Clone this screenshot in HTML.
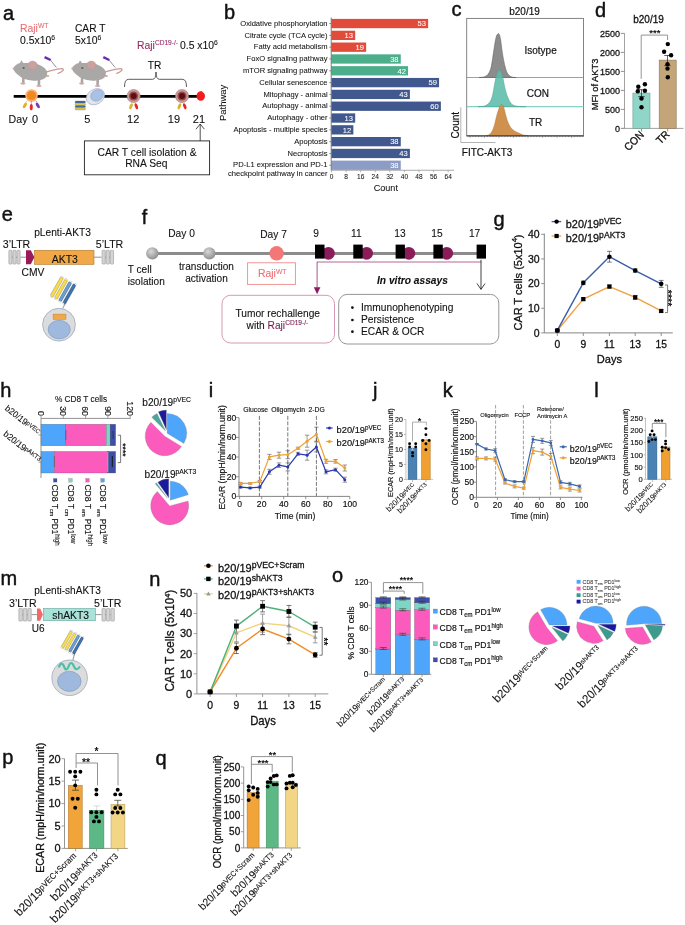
<!DOCTYPE html>
<html><head><meta charset="utf-8"><style>
html,body{margin:0;padding:0;background:#fff;width:685px;height:925px;overflow:hidden}
svg{display:block;font-family:"Liberation Sans",sans-serif;will-change:transform}
</style></head><body>
<svg width="685" height="925" viewBox="0 0 685 925" fill="#111">
<text x="3.1" y="19.5" font-size="20" stroke="#111" stroke-width="0.45">a</text>
<text x="0" y="0" font-size="10.71" fill="#ec6f74" transform="translate(20 32) scale(0.9709 1)" stroke="#ec6f74" stroke-width="0.1">Raji<tspan font-size="7" dy="-3.8">WT</tspan></text>
<text x="0" y="0" font-size="10.71" transform="translate(20 44) scale(0.9709 1)" stroke="#111" stroke-width="0.1">0.5x10<tspan font-size="7" dy="-3.8">6</tspan></text>
<text x="0" y="0" font-size="10.51" transform="translate(75 32) scale(0.9709 1)" stroke="#111" stroke-width="0.1">CAR T</text>
<text x="0" y="0" font-size="10.71" transform="translate(75 44) scale(0.9709 1)" stroke="#111" stroke-width="0.1">5x10<tspan font-size="7" dy="-3.8">6</tspan></text>
<text x="0" y="0" font-size="10.71" fill="#9b2a68" transform="translate(137 49) scale(0.9709 1)" stroke="#9b2a68" stroke-width="0.1">Raji<tspan font-size="6.8" dy="-3.8">CD19-/-</tspan></text>
<text x="0" y="0" font-size="10.71" transform="translate(180 49) scale(0.9709 1)" stroke="#111" stroke-width="0.1">0.5 x10<tspan font-size="7" dy="-3.8">6</tspan></text>
<text x="0" y="0" font-size="10.51" text-anchor="middle" transform="translate(154.5 68.5) scale(0.9709 1)" stroke="#111" stroke-width="0.1">TR</text>
<path d="M124.5,87 Q124.5,79.3 128.5,79.3 L152.5,79.3 Q156,79.3 156,72 Q156,79.3 159.5,79.3 L182.5,79.3 Q186.5,79.3 186.5,87" fill="none" stroke="#333" stroke-width="0.8"/>
<g transform="translate(0,0)">
<path d="M46,72 C52,70.5 58,68.5 62.3,68.6 C64.8,69 62.5,72 57.6,73.6" fill="none" stroke="#c99a94" stroke-width="1.3"/>
<path d="M44.6,57.1 L50.6,60" fill="none" stroke="#6a2cb0" stroke-width="2.4"/>
<line x1="50" y1="59.5" x2="56.4" y2="67.5" stroke="#666" stroke-width="0.7"/>
<path d="M23.5,77 L23.2,83 M39,78.5 L38.9,85.3" fill="none" stroke="#a9a7a5" stroke-width="2.6"/>
<ellipse cx="23" cy="83.6" rx="2.7" ry="1.1" fill="#d9a8a4"/>
<ellipse cx="38.9" cy="86" rx="2.7" ry="1.1" fill="#d9a8a4"/>
<ellipse cx="47.6" cy="75.9" rx="1.8" ry="1" fill="#d9a8a4"/>
<path d="M13.1,68.4 C14.5,65.5 17,63.8 20,63 L21.3,60.3 L23.3,63.1 C27,62.9 31,63 34,63.5 C39,64.3 44,66.5 46.5,70.5 C48,74 47,77.5 43,79.3 C40,80.6 36,80.9 32,80.4 C27,80.1 22,78.6 18.5,75.2 C16,73.2 14,71 13.1,68.4 Z" fill="#aaa8a6" stroke="none" stroke-width="1"/>
<ellipse cx="32.6" cy="65.2" rx="4.6" ry="4.2" fill="#c9a19e" stroke="#b08a88" stroke-width="0.3"/>
<ellipse cx="23.6" cy="68" rx="1.2" ry="0.8" fill="#5a4040"/>
<circle cx="13.5" cy="68.5" r="0.9" fill="#d9a0a0" stroke="none" stroke-width="1"/>
</g>
<g transform="translate(58.7,0)">
<path d="M46,72 C52,70.5 58,68.5 62.3,68.6 C64.8,69 62.5,72 57.6,73.6" fill="none" stroke="#c99a94" stroke-width="1.3"/>
<path d="M44.6,57.1 L50.6,60" fill="none" stroke="#6a2cb0" stroke-width="2.4"/>
<line x1="50" y1="59.5" x2="56.4" y2="67.5" stroke="#666" stroke-width="0.7"/>
<path d="M23.5,77 L23.2,83 M39,78.5 L38.9,85.3" fill="none" stroke="#a9a7a5" stroke-width="2.6"/>
<ellipse cx="23" cy="83.6" rx="2.7" ry="1.1" fill="#d9a8a4"/>
<ellipse cx="38.9" cy="86" rx="2.7" ry="1.1" fill="#d9a8a4"/>
<ellipse cx="47.6" cy="75.9" rx="1.8" ry="1" fill="#d9a8a4"/>
<path d="M13.1,68.4 C14.5,65.5 17,63.8 20,63 L21.3,60.3 L23.3,63.1 C27,62.9 31,63 34,63.5 C39,64.3 44,66.5 46.5,70.5 C48,74 47,77.5 43,79.3 C40,80.6 36,80.9 32,80.4 C27,80.1 22,78.6 18.5,75.2 C16,73.2 14,71 13.1,68.4 Z" fill="#aaa8a6" stroke="none" stroke-width="1"/>
<ellipse cx="32.6" cy="65.2" rx="4.6" ry="4.2" fill="#c9a19e" stroke="#b08a88" stroke-width="0.3"/>
<ellipse cx="23.6" cy="68" rx="1.2" ry="0.8" fill="#5a4040"/>
<circle cx="13.5" cy="68.5" r="0.9" fill="#d9a0a0" stroke="none" stroke-width="1"/>
</g>
<line x1="13.7" y1="96.3" x2="197" y2="96.3" stroke="#000" stroke-width="2.8"/>
<circle cx="31.5" cy="95.5" r="6.3" fill="#f7b27a" stroke="none" stroke-width="1"/>
<circle cx="31.5" cy="95.5" r="4.6" fill="#f08a1e" stroke="none" stroke-width="1"/>
<ellipse cx="24.9" cy="105.4" rx="1.5" ry="3.1" fill="#dcb42a" transform="rotate(30 24.9 105.4)"/>
<ellipse cx="31.3" cy="107.2" rx="1.5" ry="3.1" fill="#e82828" transform="rotate(0 31.3 107.2)"/>
<ellipse cx="37.8" cy="105.4" rx="1.5" ry="3.1" fill="#7a3cb0" transform="rotate(-30 37.8 105.4)"/>
<line x1="27" y1="100.5" x2="25.6" y2="102.5" stroke="#c89030" stroke-width="0.5"/>
<line x1="31.4" y1="101" x2="31.3" y2="104" stroke="#c04040" stroke-width="0.5"/>
<line x1="35.8" y1="100.5" x2="37.2" y2="102.5" stroke="#8060a0" stroke-width="0.5"/>
<ellipse cx="95.4" cy="96.7" rx="9.7" ry="7.5" transform="rotate(-30 95.4 96.7)" fill="#e2e4ea" stroke="#9aa8c8" stroke-width="0.6"/>
<ellipse cx="97" cy="95.4" rx="6.6" ry="5.4" transform="rotate(-30 97 95.4)" fill="#a9c1e2" stroke="#7f9cc8" stroke-width="0.5"/>
<rect x="75" y="101" width="10.5" height="2" rx="1" fill="#3d6ea8" stroke="#556" stroke-width="0.3"/>
<rect x="75" y="103.3" width="10.5" height="2" rx="1" fill="#e6d04a" stroke="#556" stroke-width="0.3"/>
<rect x="75" y="105.6" width="10.5" height="2" rx="1" fill="#3d6ea8" stroke="#556" stroke-width="0.3"/>
<rect x="75" y="107.9" width="10.5" height="2" rx="1" fill="#e6d04a" stroke="#556" stroke-width="0.3"/>
<circle cx="133.6" cy="96" r="6.6" fill="#c89c9c" stroke="#a07070" stroke-width="0.5"/>
<circle cx="133.6" cy="96" r="4.6" fill="#9a4848" stroke="none" stroke-width="1"/>
<circle cx="133.6" cy="96" r="3" fill="#5a1010" stroke="none" stroke-width="1"/>
<ellipse cx="131" cy="106.3" rx="1.5" ry="3.2" fill="#dcb42a" transform="rotate(20 131 106.3)"/>
<ellipse cx="136.4" cy="106.3" rx="1.5" ry="3.2" fill="#e82828" transform="rotate(-20 136.4 106.3)"/>
<circle cx="182" cy="96" r="6.6" fill="#c89c9c" stroke="#a07070" stroke-width="0.5"/>
<circle cx="182" cy="96" r="4.6" fill="#9a4848" stroke="none" stroke-width="1"/>
<circle cx="182" cy="96" r="3" fill="#5a1010" stroke="none" stroke-width="1"/>
<ellipse cx="179.4" cy="106.3" rx="1.5" ry="3.2" fill="#dcb42a" transform="rotate(20 179.4 106.3)"/>
<ellipse cx="184.8" cy="106.3" rx="1.5" ry="3.2" fill="#e82828" transform="rotate(-20 184.8 106.3)"/>
<path d="M196.5,96 C196.5,93 198.5,91.5 201.5,91 C203.5,92.5 205,94 205,96 C205,99 203,100.8 200.7,100.8 C198.5,100.8 196.5,99 196.5,96 Z" fill="#f21c1c" stroke="none" stroke-width="1"/>
<text x="0" y="0" font-size="10.92" transform="translate(8.6 123) scale(0.9709 1)" stroke="#111" stroke-width="0.1">Day</text>
<text x="0" y="0" font-size="11.33" text-anchor="middle" transform="translate(35 123) scale(0.9709 1)" stroke="#111" stroke-width="0.1">0</text>
<text x="0" y="0" font-size="11.33" text-anchor="middle" transform="translate(87.2 123) scale(0.9709 1)" stroke="#111" stroke-width="0.1">5</text>
<text x="0" y="0" font-size="11.33" text-anchor="middle" transform="translate(133.2 123) scale(0.9709 1)" stroke="#111" stroke-width="0.1">12</text>
<text x="0" y="0" font-size="11.33" text-anchor="middle" transform="translate(173.9 123) scale(0.9709 1)" stroke="#111" stroke-width="0.1">19</text>
<text x="0" y="0" font-size="11.33" text-anchor="middle" transform="translate(198.9 123) scale(0.9709 1)" stroke="#111" stroke-width="0.1">21</text>
<line x1="200.2" y1="124" x2="200.2" y2="141" stroke="#222" stroke-width="0.8"/>
<path d="M196,129.2 L200.2,124 L204.4,129.2" fill="none" stroke="#222" stroke-width="0.8"/>
<rect x="84.4" y="140.9" width="125.2" height="33.9" fill="none" stroke="#222" stroke-width="0.9"/>
<text x="0" y="0" font-size="10.61" text-anchor="middle" transform="translate(147 155.5) scale(0.9709 1)" stroke="#111" stroke-width="0.1">CAR T cell isolation &amp;</text>
<text x="0" y="0" font-size="10.61" text-anchor="middle" transform="translate(146.3 167) scale(0.9709 1)" stroke="#111" stroke-width="0.1">RNA Seq</text>
<text x="224" y="19" font-size="20" stroke="#111" stroke-width="0.45">b</text>
<text x="0" y="0" font-size="9.97" text-anchor="middle" transform="translate(225.9 102.9) rotate(-90) scale(0.9524 1)" stroke="#111" stroke-width="0.08">Pathway</text>
<rect x="331.5" y="18.9" width="96.62" height="9.3" fill="#e14b3a" stroke="none" stroke-width="1"/>
<text x="0" y="0" font-size="7.98" text-anchor="end" fill="#fff" transform="translate(425.92 26.3) scale(0.9524 1)" stroke="#fff" stroke-width="0.06">53</text>
<line x1="329.2" y1="23.55" x2="331.2" y2="23.55" stroke="#555" stroke-width="0.6"/>
<text x="0" y="0" font-size="7.98" text-anchor="end" transform="translate(327.6 25.8) scale(0.9524 1)" stroke="#111" stroke-width="0.06">Oxidative phosphorylation</text>
<rect x="331.5" y="30.71" width="23.7" height="9.3" fill="#e14b3a" stroke="none" stroke-width="1"/>
<text x="0" y="0" font-size="7.98" text-anchor="end" fill="#fff" transform="translate(353 38.11) scale(0.9524 1)" stroke="#fff" stroke-width="0.06">13</text>
<line x1="329.2" y1="35.36" x2="331.2" y2="35.36" stroke="#555" stroke-width="0.6"/>
<text x="0" y="0" font-size="7.98" text-anchor="end" transform="translate(327.6 37.61) scale(0.9524 1)" stroke="#111" stroke-width="0.06">Citrate cycle (TCA cycle)</text>
<rect x="331.5" y="42.52" width="34.64" height="9.3" fill="#e14b3a" stroke="none" stroke-width="1"/>
<text x="0" y="0" font-size="7.98" text-anchor="end" fill="#fff" transform="translate(363.94 49.92) scale(0.9524 1)" stroke="#fff" stroke-width="0.06">19</text>
<line x1="329.2" y1="47.17" x2="331.2" y2="47.17" stroke="#555" stroke-width="0.6"/>
<text x="0" y="0" font-size="7.98" text-anchor="end" transform="translate(327.6 49.42) scale(0.9524 1)" stroke="#111" stroke-width="0.06">Fatty acid metabolism</text>
<rect x="331.5" y="54.33" width="69.27" height="9.3" fill="#4cae8a" stroke="none" stroke-width="1"/>
<text x="0" y="0" font-size="7.98" text-anchor="end" fill="#fff" transform="translate(398.57 61.73) scale(0.9524 1)" stroke="#fff" stroke-width="0.06">38</text>
<line x1="329.2" y1="58.98" x2="331.2" y2="58.98" stroke="#555" stroke-width="0.6"/>
<text x="0" y="0" font-size="7.98" text-anchor="end" transform="translate(327.6 61.23) scale(0.9524 1)" stroke="#111" stroke-width="0.06">FoxO signaling pathway</text>
<rect x="331.5" y="66.14" width="76.57" height="9.3" fill="#4cae8a" stroke="none" stroke-width="1"/>
<text x="0" y="0" font-size="7.98" text-anchor="end" fill="#fff" transform="translate(405.87 73.54) scale(0.9524 1)" stroke="#fff" stroke-width="0.06">42</text>
<line x1="329.2" y1="70.79" x2="331.2" y2="70.79" stroke="#555" stroke-width="0.6"/>
<text x="0" y="0" font-size="7.98" text-anchor="end" transform="translate(327.6 73.04) scale(0.9524 1)" stroke="#111" stroke-width="0.06">mTOR signaling pathway</text>
<rect x="331.5" y="77.95" width="107.56" height="9.3" fill="#40588e" stroke="none" stroke-width="1"/>
<text x="0" y="0" font-size="7.98" text-anchor="end" fill="#fff" transform="translate(436.86 85.35) scale(0.9524 1)" stroke="#fff" stroke-width="0.06">59</text>
<line x1="329.2" y1="82.6" x2="331.2" y2="82.6" stroke="#555" stroke-width="0.6"/>
<text x="0" y="0" font-size="7.98" text-anchor="end" transform="translate(327.6 84.85) scale(0.9524 1)" stroke="#111" stroke-width="0.06">Cellular senescence</text>
<rect x="331.5" y="89.76" width="78.39" height="9.3" fill="#40588e" stroke="none" stroke-width="1"/>
<text x="0" y="0" font-size="7.98" text-anchor="end" fill="#fff" transform="translate(407.69 97.16) scale(0.9524 1)" stroke="#fff" stroke-width="0.06">43</text>
<line x1="329.2" y1="94.41" x2="331.2" y2="94.41" stroke="#555" stroke-width="0.6"/>
<text x="0" y="0" font-size="7.98" text-anchor="end" transform="translate(327.6 96.66) scale(0.9524 1)" stroke="#111" stroke-width="0.06">Mitophagy - animal</text>
<rect x="331.5" y="101.57" width="109.38" height="9.3" fill="#40588e" stroke="none" stroke-width="1"/>
<text x="0" y="0" font-size="7.98" text-anchor="end" fill="#fff" transform="translate(438.68 108.97) scale(0.9524 1)" stroke="#fff" stroke-width="0.06">60</text>
<line x1="329.2" y1="106.22" x2="331.2" y2="106.22" stroke="#555" stroke-width="0.6"/>
<text x="0" y="0" font-size="7.98" text-anchor="end" transform="translate(327.6 108.47) scale(0.9524 1)" stroke="#111" stroke-width="0.06">Autophagy - animal</text>
<rect x="331.5" y="113.38" width="23.7" height="9.3" fill="#40588e" stroke="none" stroke-width="1"/>
<text x="0" y="0" font-size="7.98" text-anchor="end" fill="#fff" transform="translate(353 120.78) scale(0.9524 1)" stroke="#fff" stroke-width="0.06">13</text>
<line x1="329.2" y1="118.03" x2="331.2" y2="118.03" stroke="#555" stroke-width="0.6"/>
<text x="0" y="0" font-size="7.98" text-anchor="end" transform="translate(327.6 120.28) scale(0.9524 1)" stroke="#111" stroke-width="0.06">Autophagy - other</text>
<rect x="331.5" y="125.19" width="21.88" height="9.3" fill="#40588e" stroke="none" stroke-width="1"/>
<text x="0" y="0" font-size="7.98" text-anchor="end" fill="#fff" transform="translate(351.18 132.59) scale(0.9524 1)" stroke="#fff" stroke-width="0.06">12</text>
<line x1="329.2" y1="129.84" x2="331.2" y2="129.84" stroke="#555" stroke-width="0.6"/>
<text x="0" y="0" font-size="7.98" text-anchor="end" transform="translate(327.6 132.09) scale(0.9524 1)" stroke="#111" stroke-width="0.06">Apoptosis - multiple species</text>
<rect x="331.5" y="137" width="69.27" height="9.3" fill="#40588e" stroke="none" stroke-width="1"/>
<text x="0" y="0" font-size="7.98" text-anchor="end" fill="#fff" transform="translate(398.57 144.4) scale(0.9524 1)" stroke="#fff" stroke-width="0.06">38</text>
<line x1="329.2" y1="141.65" x2="331.2" y2="141.65" stroke="#555" stroke-width="0.6"/>
<text x="0" y="0" font-size="7.98" text-anchor="end" transform="translate(327.6 143.9) scale(0.9524 1)" stroke="#111" stroke-width="0.06">Apoptosis</text>
<rect x="331.5" y="148.81" width="78.39" height="9.3" fill="#40588e" stroke="none" stroke-width="1"/>
<text x="0" y="0" font-size="7.98" text-anchor="end" fill="#fff" transform="translate(407.69 156.21) scale(0.9524 1)" stroke="#fff" stroke-width="0.06">43</text>
<line x1="329.2" y1="153.46" x2="331.2" y2="153.46" stroke="#555" stroke-width="0.6"/>
<text x="0" y="0" font-size="7.98" text-anchor="end" transform="translate(327.6 155.71) scale(0.9524 1)" stroke="#111" stroke-width="0.06">Necroptosis</text>
<rect x="331.5" y="160.62" width="69.27" height="9.3" fill="#8c9cc4" stroke="none" stroke-width="1"/>
<text x="0" y="0" font-size="7.98" text-anchor="end" fill="#fff" transform="translate(398.57 168.02) scale(0.9524 1)" stroke="#fff" stroke-width="0.06">38</text>
<line x1="329.2" y1="165.27" x2="331.2" y2="165.27" stroke="#555" stroke-width="0.6"/>
<text x="0" y="0" font-size="7.98" text-anchor="end" transform="translate(327.6 166.92) scale(0.9524 1)" stroke="#111" stroke-width="0.06">PD-L1 expression and PD-1</text>
<text x="0" y="0" font-size="7.98" text-anchor="end" transform="translate(327.6 175.82) scale(0.9524 1)" stroke="#111" stroke-width="0.06">checkpoint pathway in cancer</text>
<line x1="331.2" y1="17.5" x2="331.2" y2="170.5" stroke="#444" stroke-width="0.7"/>
<line x1="331" y1="170.3" x2="454" y2="170.3" stroke="#aaa" stroke-width="1.1"/>
<line x1="331.5" y1="170.3" x2="331.5" y2="172.3" stroke="#888" stroke-width="0.6"/>
<text x="0" y="0" font-size="8.05" text-anchor="middle" transform="translate(331.5 179.3) scale(0.8197 1)" stroke="#111" stroke-width="0.05">0</text>
<line x1="346.08" y1="170.3" x2="346.08" y2="172.3" stroke="#888" stroke-width="0.6"/>
<text x="0" y="0" font-size="8.05" text-anchor="middle" transform="translate(346.08 179.3) scale(0.8197 1)" stroke="#111" stroke-width="0.05">8</text>
<line x1="360.67" y1="170.3" x2="360.67" y2="172.3" stroke="#888" stroke-width="0.6"/>
<text x="0" y="0" font-size="8.05" text-anchor="middle" transform="translate(360.67 179.3) scale(0.8197 1)" stroke="#111" stroke-width="0.05">16</text>
<line x1="375.25" y1="170.3" x2="375.25" y2="172.3" stroke="#888" stroke-width="0.6"/>
<text x="0" y="0" font-size="8.05" text-anchor="middle" transform="translate(375.25 179.3) scale(0.8197 1)" stroke="#111" stroke-width="0.05">24</text>
<line x1="389.84" y1="170.3" x2="389.84" y2="172.3" stroke="#888" stroke-width="0.6"/>
<text x="0" y="0" font-size="8.05" text-anchor="middle" transform="translate(389.84 179.3) scale(0.8197 1)" stroke="#111" stroke-width="0.05">32</text>
<line x1="404.42" y1="170.3" x2="404.42" y2="172.3" stroke="#888" stroke-width="0.6"/>
<text x="0" y="0" font-size="8.05" text-anchor="middle" transform="translate(404.42 179.3) scale(0.8197 1)" stroke="#111" stroke-width="0.05">40</text>
<line x1="419" y1="170.3" x2="419" y2="172.3" stroke="#888" stroke-width="0.6"/>
<text x="0" y="0" font-size="8.05" text-anchor="middle" transform="translate(419 179.3) scale(0.8197 1)" stroke="#111" stroke-width="0.05">48</text>
<line x1="433.59" y1="170.3" x2="433.59" y2="172.3" stroke="#888" stroke-width="0.6"/>
<text x="0" y="0" font-size="8.05" text-anchor="middle" transform="translate(433.59 179.3) scale(0.8197 1)" stroke="#111" stroke-width="0.05">56</text>
<line x1="448.17" y1="170.3" x2="448.17" y2="172.3" stroke="#888" stroke-width="0.6"/>
<text x="0" y="0" font-size="8.05" text-anchor="middle" transform="translate(448.17 179.3) scale(0.8197 1)" stroke="#111" stroke-width="0.05">64</text>
<text x="0" y="0" font-size="9.55" text-anchor="middle" transform="translate(385.8 190.5) scale(0.9524 1)" stroke="#111" stroke-width="0.07">Count</text>
<text x="451.5" y="16.2" font-size="20" stroke="#111" stroke-width="0.45">c</text>
<text x="0" y="0" font-size="10.4" text-anchor="middle" transform="translate(524.5 14.6) scale(0.9615 1)" stroke="#111" stroke-width="0.2">b20/19</text>
<rect x="466.7" y="18.4" width="116.8" height="117.5" fill="none" stroke="#777" stroke-width="0.9"/>
<line x1="466.7" y1="77.5" x2="583.5" y2="77.5" stroke="#888" stroke-width="0.8"/>
<path d="M479,77.5 C486,77.5 489,75.5 491.2,67 C493.2,57 494.8,40 496.8,35 L498.3,33.6 C499.3,33.3 500,36 500.8,41 C502,52 503.8,63 506.3,71 C508.3,76 511,77.5 516,77.5 Z" fill="#8c8c8c" stroke="#555" stroke-width="0.5"/>
<line x1="466.7" y1="106.7" x2="583.5" y2="106.7" stroke="#86d0c4" stroke-width="1.2"/>
<path d="M478,106.7 C488,106.7 491,103 493,93 C495,82 496.5,72 498.5,70.5 L499.7,70.2 C501.5,70.5 502.5,75 503.8,82 C505.5,92 508,100 512,104.5 C515,106.3 519,106.7 526,106.7 Z" fill="#5cbcaa" stroke="#3e9a8a" stroke-width="0.4" fill-opacity="0.88"/>
<path d="M486,135.5 C490.5,135.5 493,131 495,123 C497,113 499.5,106 501,104.7 L501.8,104.5 C503.5,105 504.5,110 506,116 C507.5,122 509.5,126.5 512,129 C514.5,131.5 518,132.5 521,134 C523,135 525,135.5 528,135.5 Z" fill="#d0914e" stroke="#a86a2a" stroke-width="0.4"/>
<line x1="466.7" y1="135.9" x2="583.5" y2="135.9" stroke="#222" stroke-width="0.9"/>
<line x1="470" y1="135.9" x2="470" y2="137.8" stroke="#333" stroke-width="0.4"/>
<line x1="472.9" y1="135.9" x2="472.9" y2="137.1" stroke="#333" stroke-width="0.4"/>
<line x1="475.8" y1="135.9" x2="475.8" y2="137.1" stroke="#333" stroke-width="0.4"/>
<line x1="478.7" y1="135.9" x2="478.7" y2="137.1" stroke="#333" stroke-width="0.4"/>
<line x1="481.6" y1="135.9" x2="481.6" y2="137.1" stroke="#333" stroke-width="0.4"/>
<line x1="484.5" y1="135.9" x2="484.5" y2="137.8" stroke="#333" stroke-width="0.4"/>
<line x1="487.4" y1="135.9" x2="487.4" y2="137.1" stroke="#333" stroke-width="0.4"/>
<line x1="490.3" y1="135.9" x2="490.3" y2="137.1" stroke="#333" stroke-width="0.4"/>
<line x1="493.2" y1="135.9" x2="493.2" y2="137.1" stroke="#333" stroke-width="0.4"/>
<line x1="496.1" y1="135.9" x2="496.1" y2="137.1" stroke="#333" stroke-width="0.4"/>
<line x1="499" y1="135.9" x2="499" y2="137.8" stroke="#333" stroke-width="0.4"/>
<line x1="501.9" y1="135.9" x2="501.9" y2="137.1" stroke="#333" stroke-width="0.4"/>
<line x1="504.8" y1="135.9" x2="504.8" y2="137.1" stroke="#333" stroke-width="0.4"/>
<line x1="507.7" y1="135.9" x2="507.7" y2="137.1" stroke="#333" stroke-width="0.4"/>
<line x1="510.6" y1="135.9" x2="510.6" y2="137.1" stroke="#333" stroke-width="0.4"/>
<line x1="513.5" y1="135.9" x2="513.5" y2="137.8" stroke="#333" stroke-width="0.4"/>
<line x1="516.4" y1="135.9" x2="516.4" y2="137.1" stroke="#333" stroke-width="0.4"/>
<line x1="519.3" y1="135.9" x2="519.3" y2="137.1" stroke="#333" stroke-width="0.4"/>
<line x1="522.2" y1="135.9" x2="522.2" y2="137.1" stroke="#333" stroke-width="0.4"/>
<line x1="525.1" y1="135.9" x2="525.1" y2="137.1" stroke="#333" stroke-width="0.4"/>
<line x1="528" y1="135.9" x2="528" y2="137.8" stroke="#333" stroke-width="0.4"/>
<line x1="530.9" y1="135.9" x2="530.9" y2="137.1" stroke="#333" stroke-width="0.4"/>
<line x1="533.8" y1="135.9" x2="533.8" y2="137.1" stroke="#333" stroke-width="0.4"/>
<line x1="536.7" y1="135.9" x2="536.7" y2="137.1" stroke="#333" stroke-width="0.4"/>
<line x1="539.6" y1="135.9" x2="539.6" y2="137.1" stroke="#333" stroke-width="0.4"/>
<line x1="542.5" y1="135.9" x2="542.5" y2="137.8" stroke="#333" stroke-width="0.4"/>
<line x1="545.4" y1="135.9" x2="545.4" y2="137.1" stroke="#333" stroke-width="0.4"/>
<line x1="548.3" y1="135.9" x2="548.3" y2="137.1" stroke="#333" stroke-width="0.4"/>
<line x1="551.2" y1="135.9" x2="551.2" y2="137.1" stroke="#333" stroke-width="0.4"/>
<line x1="554.1" y1="135.9" x2="554.1" y2="137.1" stroke="#333" stroke-width="0.4"/>
<line x1="557" y1="135.9" x2="557" y2="137.8" stroke="#333" stroke-width="0.4"/>
<line x1="559.9" y1="135.9" x2="559.9" y2="137.1" stroke="#333" stroke-width="0.4"/>
<line x1="562.8" y1="135.9" x2="562.8" y2="137.1" stroke="#333" stroke-width="0.4"/>
<line x1="565.7" y1="135.9" x2="565.7" y2="137.1" stroke="#333" stroke-width="0.4"/>
<line x1="568.6" y1="135.9" x2="568.6" y2="137.1" stroke="#333" stroke-width="0.4"/>
<line x1="571.5" y1="135.9" x2="571.5" y2="137.8" stroke="#333" stroke-width="0.4"/>
<line x1="574.4" y1="135.9" x2="574.4" y2="137.1" stroke="#333" stroke-width="0.4"/>
<line x1="577.3" y1="135.9" x2="577.3" y2="137.1" stroke="#333" stroke-width="0.4"/>
<line x1="580.2" y1="135.9" x2="580.2" y2="137.1" stroke="#333" stroke-width="0.4"/>
<line x1="583.1" y1="135.9" x2="583.1" y2="137.1" stroke="#333" stroke-width="0.4"/>
<text x="0" y="0" font-size="10.4" transform="translate(524.5 54) scale(0.9615 1)" stroke="#111" stroke-width="0.2">Isotype</text>
<text x="0" y="0" font-size="10.4" transform="translate(526.7 97) scale(0.9615 1)" stroke="#111" stroke-width="0.2">CON</text>
<text x="0" y="0" font-size="10.4" transform="translate(529 125.7) scale(0.9615 1)" stroke="#111" stroke-width="0.2">TR</text>
<text x="0" y="0" font-size="10.4" text-anchor="middle" transform="translate(458.9 125.3) rotate(-90) scale(0.9615 1)" stroke="#111" stroke-width="0.2">Count</text>
<path d="M460.8,107.4 L460.8,142.5 L495.4,142.5" fill="none" stroke="#aaa" stroke-width="0.9"/>
<text x="0" y="0" font-size="10.4" transform="translate(461.8 156.4) scale(0.9615 1)" stroke="#111" stroke-width="0.2">FITC-AKT3</text>
<text x="595" y="16.7" font-size="20" stroke="#111" stroke-width="0.45">d</text>
<text x="0" y="0" font-size="10.6" text-anchor="middle" transform="translate(648.5 23.4) scale(0.9434 1)" stroke="#111" stroke-width="0.3">b20/19</text>
<line x1="624.5" y1="33.3" x2="624.5" y2="128.4" stroke="#999" stroke-width="0.9"/>
<line x1="620.8" y1="128.4" x2="624.5" y2="128.4" stroke="#777" stroke-width="0.8"/>
<text x="0" y="0" font-size="9.54" text-anchor="end" transform="translate(620 131.6) scale(0.9434 1)" stroke="#111" stroke-width="0.27">0</text>
<line x1="620.8" y1="109.4" x2="624.5" y2="109.4" stroke="#777" stroke-width="0.8"/>
<text x="0" y="0" font-size="9.54" text-anchor="end" transform="translate(620 112.6) scale(0.9434 1)" stroke="#111" stroke-width="0.27">500</text>
<line x1="620.8" y1="90.4" x2="624.5" y2="90.4" stroke="#777" stroke-width="0.8"/>
<text x="0" y="0" font-size="9.54" text-anchor="end" transform="translate(620 93.6) scale(0.9434 1)" stroke="#111" stroke-width="0.27">1000</text>
<line x1="620.8" y1="71.4" x2="624.5" y2="71.4" stroke="#777" stroke-width="0.8"/>
<text x="0" y="0" font-size="9.54" text-anchor="end" transform="translate(620 74.6) scale(0.9434 1)" stroke="#111" stroke-width="0.27">1500</text>
<line x1="620.8" y1="52.4" x2="624.5" y2="52.4" stroke="#777" stroke-width="0.8"/>
<text x="0" y="0" font-size="9.54" text-anchor="end" transform="translate(620 55.6) scale(0.9434 1)" stroke="#111" stroke-width="0.27">2000</text>
<line x1="620.8" y1="33.4" x2="624.5" y2="33.4" stroke="#777" stroke-width="0.8"/>
<text x="0" y="0" font-size="9.54" text-anchor="end" transform="translate(620 36.6) scale(0.9434 1)" stroke="#111" stroke-width="0.27">2500</text>
<line x1="621.5" y1="128.4" x2="683.5" y2="128.4" stroke="#999" stroke-width="0.9"/>
<line x1="641.5" y1="128.4" x2="641.5" y2="131.5" stroke="#777" stroke-width="0.8"/>
<line x1="667.7" y1="128.4" x2="667.7" y2="131.5" stroke="#777" stroke-width="0.8"/>
<rect x="632.9" y="93.1" width="17.1" height="35.3" fill="#8fd6c8" stroke="#6e9e96" stroke-width="0.6"/>
<rect x="659.2" y="60.1" width="17" height="68.3" fill="#c4a57a" stroke="#8e7652" stroke-width="0.6"/>
<line x1="641.5" y1="89.7" x2="641.5" y2="96.6" stroke="#222" stroke-width="0.7"/>
<line x1="638.3" y1="89.7" x2="644.7" y2="89.7" stroke="#222" stroke-width="0.7"/>
<line x1="638.3" y1="96.6" x2="644.7" y2="96.6" stroke="#222" stroke-width="0.7"/>
<line x1="667.5" y1="55.5" x2="667.5" y2="65.7" stroke="#222" stroke-width="0.7"/>
<line x1="664.3" y1="55.5" x2="670.7" y2="55.5" stroke="#222" stroke-width="0.7"/>
<line x1="664.3" y1="65.7" x2="670.7" y2="65.7" stroke="#222" stroke-width="0.7"/>
<circle cx="638.3" cy="86.8" r="2.2" fill="#000" stroke="none" stroke-width="1"/>
<circle cx="644.9" cy="84.3" r="2.2" fill="#000" stroke="none" stroke-width="1"/>
<circle cx="637.8" cy="91.2" r="2.2" fill="#000" stroke="none" stroke-width="1"/>
<circle cx="644.9" cy="90.7" r="2.2" fill="#000" stroke="none" stroke-width="1"/>
<circle cx="641.5" cy="98.5" r="2.2" fill="#000" stroke="none" stroke-width="1"/>
<circle cx="641.5" cy="107.2" r="2.2" fill="#000" stroke="none" stroke-width="1"/>
<circle cx="667.8" cy="44.1" r="2.2" fill="#000" stroke="none" stroke-width="1"/>
<circle cx="664.1" cy="51.8" r="2.2" fill="#000" stroke="none" stroke-width="1"/>
<circle cx="671.1" cy="55.2" r="2.2" fill="#000" stroke="none" stroke-width="1"/>
<circle cx="667.5" cy="64.2" r="2.2" fill="#000" stroke="none" stroke-width="1"/>
<circle cx="667.5" cy="68.6" r="2.2" fill="#000" stroke="none" stroke-width="1"/>
<circle cx="667.8" cy="77.3" r="2.2" fill="#000" stroke="none" stroke-width="1"/>
<path d="M641.2,78.8 L641.2,35.1 L667.6,35.1 L667.6,40" fill="none" stroke="#888" stroke-width="0.9"/>
<text x="654.8" y="35.78" font-size="9.5" text-anchor="middle" font-weight="bold" fill="#111">***</text>
<text x="0" y="0" font-size="10.81" transform="translate(628.6 151.4) rotate(-45) scale(0.9434 1)" stroke="#111" stroke-width="0.3">CON</text>
<text x="0" y="0" font-size="10.81" transform="translate(660.6 144.7) rotate(-45) scale(0.9434 1)" stroke="#111" stroke-width="0.3">TR</text>
<text x="0" y="0" font-size="9.86" text-anchor="middle" transform="translate(598.4 84.5) rotate(-90) scale(0.9434 1)" stroke="#111" stroke-width="0.28">MFI of AKT3</text>
<text x="1.8" y="220.6" font-size="20" stroke="#111" stroke-width="0.45">e</text>
<text x="0" y="0" font-size="10.51" transform="translate(34.2 235.7) scale(0.9709 1)" stroke="#111" stroke-width="0.1">pLenti-AKT3</text>
<text x="0" y="0" font-size="10.92" transform="translate(2.8 247.8) scale(0.9709 1)" stroke="#111" stroke-width="0.1">3’LTR</text>
<text x="0" y="0" font-size="10.92" transform="translate(95.8 247.8) scale(0.9709 1)" stroke="#111" stroke-width="0.1">5’LTR</text>
<rect x="8.85" y="250.3" width="3.17" height="13.8" rx="0.8" fill="#d4d4d4" stroke="#8a8a8a" stroke-width="0.5"/>
<line x1="11.97" y1="257.2" x2="12.97" y2="257.2" stroke="#666" stroke-width="0.6"/>
<rect x="12.92" y="250.3" width="3.17" height="13.8" rx="0.8" fill="#d4d4d4" stroke="#8a8a8a" stroke-width="0.5"/>
<line x1="16.03" y1="257.2" x2="17.03" y2="257.2" stroke="#666" stroke-width="0.6"/>
<rect x="16.98" y="250.3" width="3.17" height="13.8" rx="0.8" fill="#d4d4d4" stroke="#8a8a8a" stroke-width="0.5"/>
<line x1="20.6" y1="257.2" x2="26" y2="257.2" stroke="#777" stroke-width="0.8"/>
<path d="M26,250.3 L30.8,250.3 L34.4,257.3 L30.8,264.3 L26,264.3 Z" fill="#9b1b5a" stroke="none" stroke-width="1"/>
<rect x="34.5" y="250.3" width="59.5" height="14.1" fill="#f0a848" stroke="#b07a30" stroke-width="0.6"/>
<text x="0" y="0" font-size="10.71" text-anchor="middle" transform="translate(64.8 262.5) scale(0.9709 1)" stroke="#111" stroke-width="0.1">AKT3</text>
<line x1="94" y1="257.2" x2="101.5" y2="257.2" stroke="#777" stroke-width="0.8"/>
<rect x="102.05" y="250.3" width="3.23" height="13.8" rx="0.8" fill="#d4d4d4" stroke="#8a8a8a" stroke-width="0.5"/>
<line x1="105.23" y1="257.2" x2="106.23" y2="257.2" stroke="#666" stroke-width="0.6"/>
<rect x="106.18" y="250.3" width="3.23" height="13.8" rx="0.8" fill="#d4d4d4" stroke="#8a8a8a" stroke-width="0.5"/>
<line x1="109.37" y1="257.2" x2="110.37" y2="257.2" stroke="#666" stroke-width="0.6"/>
<rect x="110.32" y="250.3" width="3.23" height="13.8" rx="0.8" fill="#d4d4d4" stroke="#8a8a8a" stroke-width="0.5"/>
<text x="0" y="0" font-size="10.61" transform="translate(21.6 275.9) scale(0.9709 1)" stroke="#111" stroke-width="0.1">CMV</text>
<line x1="51.8" y1="295.8" x2="61.8" y2="278.1" stroke="#aaa" stroke-width="3.9" stroke-linecap="round"/>
<line x1="51.8" y1="295.8" x2="61.8" y2="278.1" stroke="#fff" stroke-width="3.3" stroke-linecap="round"/>
<line x1="52.2" y1="295.1" x2="61.4" y2="278.8" stroke="#c8a820" stroke-width="3.2" stroke-linecap="round"/>
<line x1="52.2" y1="295.1" x2="61.4" y2="278.8" stroke="#f2dc5a" stroke-width="2.5" stroke-linecap="round"/>
<line x1="56" y1="298.1" x2="66" y2="280.4" stroke="#aaa" stroke-width="3.9" stroke-linecap="round"/>
<line x1="56" y1="298.1" x2="66" y2="280.4" stroke="#fff" stroke-width="3.3" stroke-linecap="round"/>
<line x1="56.4" y1="297.4" x2="65.6" y2="281.1" stroke="#c8a820" stroke-width="3.2" stroke-linecap="round"/>
<line x1="56.4" y1="297.4" x2="65.6" y2="281.1" stroke="#f2dc5a" stroke-width="2.5" stroke-linecap="round"/>
<line x1="60.2" y1="300.4" x2="70.2" y2="282.7" stroke="#aaa" stroke-width="3.9" stroke-linecap="round"/>
<line x1="60.2" y1="300.4" x2="70.2" y2="282.7" stroke="#fff" stroke-width="3.3" stroke-linecap="round"/>
<line x1="60.6" y1="299.7" x2="69.8" y2="283.4" stroke="#3e6ea0" stroke-width="3.2" stroke-linecap="round"/>
<line x1="60.6" y1="299.7" x2="69.8" y2="283.4" stroke="#6a9fd0" stroke-width="2.5" stroke-linecap="round"/>
<line x1="64.4" y1="302.7" x2="74.4" y2="285" stroke="#aaa" stroke-width="3.9" stroke-linecap="round"/>
<line x1="64.4" y1="302.7" x2="74.4" y2="285" stroke="#fff" stroke-width="3.3" stroke-linecap="round"/>
<line x1="64.8" y1="302" x2="74" y2="285.7" stroke="#2a4e88" stroke-width="3.2" stroke-linecap="round"/>
<line x1="64.8" y1="302" x2="74" y2="285.7" stroke="#3f74b0" stroke-width="2.5" stroke-linecap="round"/>
<line x1="65.8" y1="302.5" x2="62.6" y2="308.6" stroke="#444" stroke-width="0.6"/>
<circle cx="59" cy="324.7" r="16.4" fill="#dcdcdc" stroke="#7f93b5" stroke-width="0.6"/>
<ellipse cx="59.2" cy="329.6" rx="11.1" ry="9.3" fill="#9fb8dd" stroke="#6f8cbc" stroke-width="0.5"/>
<rect x="53.1" y="314.1" width="12.9" height="5.2" fill="#f0a848" stroke="#b07a30" stroke-width="0.4"/>
<text x="141.7" y="224.3" font-size="19.5" stroke="#111" stroke-width="0.45">f</text>
<line x1="152.3" y1="253.4" x2="481" y2="253.4" stroke="#8c8c8c" stroke-width="3"/>
<defs><radialGradient id="gg" cx="0.4" cy="0.35" r="0.7"><stop offset="0" stop-color="#d8d8d8"/><stop offset="1" stop-color="#8a8a8a"/></radialGradient></defs>
<circle cx="152.3" cy="253.4" r="6.2" fill="url(#gg)" stroke="none" stroke-width="1"/>
<circle cx="209.3" cy="253.4" r="6.2" fill="url(#gg)" stroke="none" stroke-width="1"/>
<text x="0" y="0" font-size="10.51" text-anchor="middle" transform="translate(181.5 237.4) scale(0.9709 1)" stroke="#111" stroke-width="0.1">Day 0</text>
<text x="0" y="0" font-size="10.4" transform="translate(127.8 272.8) scale(0.9709 1)" stroke="#111" stroke-width="0.1">T cell</text>
<text x="0" y="0" font-size="10.4" transform="translate(127.8 285) scale(0.9709 1)" stroke="#111" stroke-width="0.1">isolation</text>
<text x="0" y="0" font-size="10.4" text-anchor="middle" transform="translate(206.5 270.1) scale(0.9709 1)" stroke="#111" stroke-width="0.1">transduction</text>
<text x="0" y="0" font-size="10.4" text-anchor="middle" transform="translate(206.5 282.4) scale(0.9709 1)" stroke="#111" stroke-width="0.1">activation</text>
<text x="0" y="0" font-size="10.51" text-anchor="middle" transform="translate(273.5 237.5) scale(0.9709 1)" stroke="#111" stroke-width="0.1">Day 7</text>
<circle cx="276.6" cy="253.3" r="7.2" fill="#f27878" stroke="none" stroke-width="1"/>
<rect x="247.6" y="262.8" width="47.8" height="21.6" fill="none" stroke="#f08a8a" stroke-width="0.9"/>
<text x="0" y="0" font-size="10.71" fill="#ec6f74" transform="translate(258 277.4) scale(0.9709 1)" stroke="#ec6f74" stroke-width="0.1">Raji<tspan font-size="7" dy="-3.8">WT</tspan></text>
<line x1="316.9" y1="262" x2="481.3" y2="262" stroke="#a3427c" stroke-width="0.8"/>
<line x1="317.1" y1="262" x2="317.1" y2="288.5" stroke="#9b2a68" stroke-width="0.8"/>
<path d="M313.8,287.3 L320.4,287.3 L317.1,294.3 Z" fill="#8b1c5a" stroke="none" stroke-width="1"/>
<line x1="481" y1="259.8" x2="481" y2="289.2" stroke="#111" stroke-width="0.8"/>
<path d="M477,283.5 L481,289.4 L485,283.5" fill="none" stroke="#111" stroke-width="0.8"/>
<text x="0" y="0" font-size="10.51" text-anchor="middle" transform="translate(316 237.4) scale(0.9709 1)" stroke="#111" stroke-width="0.1">9</text>
<circle cx="328.4" cy="253.3" r="6.4" fill="#8b1c5a" stroke="none" stroke-width="1"/>
<rect x="315" y="244.6" width="9.5" height="14" fill="#000" stroke="none" stroke-width="1"/>
<text x="0" y="0" font-size="10.51" text-anchor="middle" transform="translate(356.3 237.4) scale(0.9709 1)" stroke="#111" stroke-width="0.1">11</text>
<circle cx="366.6" cy="253.3" r="6.4" fill="#8b1c5a" stroke="none" stroke-width="1"/>
<rect x="353.3" y="244.6" width="9.4" height="14" fill="#000" stroke="none" stroke-width="1"/>
<text x="0" y="0" font-size="10.51" text-anchor="middle" transform="translate(399.9 237.4) scale(0.9709 1)" stroke="#111" stroke-width="0.1">13</text>
<circle cx="408.8" cy="253.3" r="6.4" fill="#8b1c5a" stroke="none" stroke-width="1"/>
<rect x="395.6" y="244.6" width="9.3" height="14" fill="#000" stroke="none" stroke-width="1"/>
<text x="0" y="0" font-size="10.51" text-anchor="middle" transform="translate(437 237.4) scale(0.9709 1)" stroke="#111" stroke-width="0.1">15</text>
<circle cx="446.7" cy="253.3" r="6.4" fill="#8b1c5a" stroke="none" stroke-width="1"/>
<rect x="433.4" y="244.6" width="9.4" height="14" fill="#000" stroke="none" stroke-width="1"/>
<text x="0" y="0" font-size="10.51" text-anchor="middle" transform="translate(474.6 237.4) scale(0.9709 1)" stroke="#111" stroke-width="0.1">17</text>
<rect x="476.6" y="244.6" width="9.4" height="14" fill="#000" stroke="none" stroke-width="1"/>
<rect x="222" y="295.3" width="112.5" height="47.7" fill="none" stroke="#d48cac" stroke-width="0.9" rx="8.5"/>
<text x="0" y="0" font-size="10.51" text-anchor="middle" transform="translate(277.7 316.8) scale(0.9709 1)" stroke="#111" stroke-width="0.1">Tumor rechallenge</text>
<text x="0" y="0" font-size="10.51" transform="translate(246.6 329) scale(0.9709 1)" stroke="#111" stroke-width="0.1">with <tspan fill="#9b2a68">Raji</tspan><tspan font-size="6.8" dy="-3.8" fill="#9b2a68">CD19-/-</tspan></text>
<rect x="338.7" y="294.4" width="160.1" height="49.6" fill="none" stroke="#8a8a8a" stroke-width="0.9" rx="8.5"/>
<circle cx="352.4" cy="307.6" r="1.35" fill="#111" stroke="none" stroke-width="1"/>
<text x="0" y="0" font-size="10.51" transform="translate(361 311) scale(0.9709 1)" stroke="#111" stroke-width="0.1">Immunophenotyping</text>
<circle cx="352.4" cy="320" r="1.35" fill="#111" stroke="none" stroke-width="1"/>
<text x="0" y="0" font-size="10.51" transform="translate(361 323.4) scale(0.9709 1)" stroke="#111" stroke-width="0.1">Persistence</text>
<circle cx="352.4" cy="331.7" r="1.35" fill="#111" stroke="none" stroke-width="1"/>
<text x="0" y="0" font-size="10.51" transform="translate(361 335.1) scale(0.9709 1)" stroke="#111" stroke-width="0.1">ECAR &amp; OCR</text>
<text x="0" y="0" font-size="10.51" text-anchor="middle" font-weight="bold" font-style="italic" transform="translate(412.4 284.3) scale(0.9709 1)" stroke="#111" stroke-width="0.1">In vitro assays</text>
<text x="493.6" y="225.5" font-size="20" stroke="#111" stroke-width="0.45">g</text>
<line x1="544.3" y1="233.6" x2="544.3" y2="332.9" stroke="#777" stroke-width="0.9"/>
<line x1="541.2" y1="332.9" x2="544.3" y2="332.9" stroke="#777" stroke-width="0.8"/>
<text x="0" y="0" font-size="11.13" text-anchor="end" transform="translate(539.6 336.6) scale(0.9434 1)" stroke="#111" stroke-width="0.3">0</text>
<line x1="541.2" y1="308.25" x2="544.3" y2="308.25" stroke="#777" stroke-width="0.8"/>
<text x="0" y="0" font-size="11.13" text-anchor="end" transform="translate(539.6 311.95) scale(0.9434 1)" stroke="#111" stroke-width="0.3">10</text>
<line x1="541.2" y1="283.6" x2="544.3" y2="283.6" stroke="#777" stroke-width="0.8"/>
<text x="0" y="0" font-size="11.13" text-anchor="end" transform="translate(539.6 287.3) scale(0.9434 1)" stroke="#111" stroke-width="0.3">20</text>
<line x1="541.2" y1="258.95" x2="544.3" y2="258.95" stroke="#777" stroke-width="0.8"/>
<text x="0" y="0" font-size="11.13" text-anchor="end" transform="translate(539.6 262.65) scale(0.9434 1)" stroke="#111" stroke-width="0.3">30</text>
<line x1="541.2" y1="234.3" x2="544.3" y2="234.3" stroke="#777" stroke-width="0.8"/>
<text x="0" y="0" font-size="11.13" text-anchor="end" transform="translate(539.6 238) scale(0.9434 1)" stroke="#111" stroke-width="0.3">40</text>
<line x1="544.3" y1="332.9" x2="672.8" y2="332.9" stroke="#777" stroke-width="0.9"/>
<line x1="557.3" y1="332.9" x2="557.3" y2="336" stroke="#777" stroke-width="0.8"/>
<text x="0" y="0" font-size="10.92" text-anchor="middle" transform="translate(557.3 347.8) scale(0.9434 1)" stroke="#111" stroke-width="0.3">0</text>
<line x1="583.3" y1="332.9" x2="583.3" y2="336" stroke="#777" stroke-width="0.8"/>
<text x="0" y="0" font-size="10.92" text-anchor="middle" transform="translate(583.3 347.8) scale(0.9434 1)" stroke="#111" stroke-width="0.3">9</text>
<line x1="609.4" y1="332.9" x2="609.4" y2="336" stroke="#777" stroke-width="0.8"/>
<text x="0" y="0" font-size="10.92" text-anchor="middle" transform="translate(609.4 347.8) scale(0.9434 1)" stroke="#111" stroke-width="0.3">11</text>
<line x1="635.2" y1="332.9" x2="635.2" y2="336" stroke="#777" stroke-width="0.8"/>
<text x="0" y="0" font-size="10.92" text-anchor="middle" transform="translate(635.2 347.8) scale(0.9434 1)" stroke="#111" stroke-width="0.3">13</text>
<line x1="661.2" y1="332.9" x2="661.2" y2="336" stroke="#777" stroke-width="0.8"/>
<text x="0" y="0" font-size="10.92" text-anchor="middle" transform="translate(661.2 347.8) scale(0.9434 1)" stroke="#111" stroke-width="0.3">15</text>
<text x="0" y="0" font-size="11.77" text-anchor="middle" transform="translate(609.4 363.2) scale(0.9434 1)" stroke="#111" stroke-width="0.3">Days</text>
<text x="0" y="0" font-size="11.66" text-anchor="middle" transform="translate(521.6 282.5) rotate(-90) scale(0.9434 1)" stroke="#111" stroke-width="0.3">CAR T cells (5x10<tspan font-size="8.06" dy="-4.2">4</tspan><tspan dy="4.2" font-size="11.66">)</tspan></text>
<line x1="557.3" y1="329.7" x2="557.3" y2="331.17" stroke="#444" stroke-width="0.7"/>
<line x1="554.9" y1="329.7" x2="559.7" y2="329.7" stroke="#444" stroke-width="0.7"/>
<line x1="554.9" y1="331.17" x2="559.7" y2="331.17" stroke="#444" stroke-width="0.7"/>
<line x1="583.3" y1="281.13" x2="583.3" y2="284.59" stroke="#444" stroke-width="0.7"/>
<line x1="580.9" y1="281.13" x2="585.7" y2="281.13" stroke="#444" stroke-width="0.7"/>
<line x1="580.9" y1="284.59" x2="585.7" y2="284.59" stroke="#444" stroke-width="0.7"/>
<line x1="609.4" y1="251.31" x2="609.4" y2="262.15" stroke="#444" stroke-width="0.7"/>
<line x1="607" y1="251.31" x2="611.8" y2="251.31" stroke="#444" stroke-width="0.7"/>
<line x1="607" y1="262.15" x2="611.8" y2="262.15" stroke="#444" stroke-width="0.7"/>
<line x1="635.2" y1="268.81" x2="635.2" y2="272.26" stroke="#444" stroke-width="0.7"/>
<line x1="632.8" y1="268.81" x2="637.6" y2="268.81" stroke="#444" stroke-width="0.7"/>
<line x1="632.8" y1="272.26" x2="637.6" y2="272.26" stroke="#444" stroke-width="0.7"/>
<line x1="661.2" y1="280.4" x2="661.2" y2="287.3" stroke="#444" stroke-width="0.7"/>
<line x1="658.8" y1="280.4" x2="663.6" y2="280.4" stroke="#444" stroke-width="0.7"/>
<line x1="658.8" y1="287.3" x2="663.6" y2="287.3" stroke="#444" stroke-width="0.7"/>
<line x1="557.3" y1="329.7" x2="557.3" y2="331.17" stroke="#444" stroke-width="0.7"/>
<line x1="554.9" y1="329.7" x2="559.7" y2="329.7" stroke="#444" stroke-width="0.7"/>
<line x1="554.9" y1="331.17" x2="559.7" y2="331.17" stroke="#444" stroke-width="0.7"/>
<line x1="583.3" y1="297.9" x2="583.3" y2="300.36" stroke="#444" stroke-width="0.7"/>
<line x1="580.9" y1="297.9" x2="585.7" y2="297.9" stroke="#444" stroke-width="0.7"/>
<line x1="580.9" y1="300.36" x2="585.7" y2="300.36" stroke="#444" stroke-width="0.7"/>
<line x1="609.4" y1="285.08" x2="609.4" y2="288.04" stroke="#444" stroke-width="0.7"/>
<line x1="607" y1="285.08" x2="611.8" y2="285.08" stroke="#444" stroke-width="0.7"/>
<line x1="607" y1="288.04" x2="611.8" y2="288.04" stroke="#444" stroke-width="0.7"/>
<line x1="635.2" y1="295.43" x2="635.2" y2="299.38" stroke="#444" stroke-width="0.7"/>
<line x1="632.8" y1="295.43" x2="637.6" y2="295.43" stroke="#444" stroke-width="0.7"/>
<line x1="632.8" y1="299.38" x2="637.6" y2="299.38" stroke="#444" stroke-width="0.7"/>
<line x1="661.2" y1="309.73" x2="661.2" y2="312.19" stroke="#444" stroke-width="0.7"/>
<line x1="658.8" y1="309.73" x2="663.6" y2="309.73" stroke="#444" stroke-width="0.7"/>
<line x1="658.8" y1="312.19" x2="663.6" y2="312.19" stroke="#444" stroke-width="0.7"/>
<polyline points="557.3,330.44 583.3,299.13 609.4,286.56 635.2,297.4 661.2,310.96" fill="none" stroke="#f0a040" stroke-width="1.4" stroke-linejoin="round"/>
<polyline points="557.3,330.44 583.3,282.86 609.4,256.73 635.2,270.54 661.2,283.85" fill="none" stroke="#3a5ea8" stroke-width="1.4" stroke-linejoin="round"/>
<rect x="555.2" y="328.33" width="4.2" height="4.2" fill="#000" stroke="none" stroke-width="1"/>
<rect x="581.2" y="297.03" width="4.2" height="4.2" fill="#000" stroke="none" stroke-width="1"/>
<rect x="607.3" y="284.46" width="4.2" height="4.2" fill="#000" stroke="none" stroke-width="1"/>
<rect x="633.1" y="295.3" width="4.2" height="4.2" fill="#000" stroke="none" stroke-width="1"/>
<rect x="659.1" y="308.86" width="4.2" height="4.2" fill="#000" stroke="none" stroke-width="1"/>
<circle cx="557.3" cy="330.44" r="2.3" fill="#000" stroke="none" stroke-width="1"/>
<circle cx="583.3" cy="282.86" r="2.3" fill="#000" stroke="none" stroke-width="1"/>
<circle cx="609.4" cy="256.73" r="2.3" fill="#000" stroke="none" stroke-width="1"/>
<circle cx="635.2" cy="270.54" r="2.3" fill="#000" stroke="none" stroke-width="1"/>
<circle cx="661.2" cy="283.85" r="2.3" fill="#000" stroke="none" stroke-width="1"/>
<path d="M665,285 L667.6,285 L667.6,312.6 L665,312.6" fill="none" stroke="#444" stroke-width="0.7"/>
<text x="664.29" y="298.1" font-size="10.7" text-anchor="middle" font-weight="bold" fill="#111" transform="rotate(90 664.29 298.1)">****</text>
<line x1="551.6" y1="221.6" x2="561.2" y2="221.6" stroke="#3a5ea8" stroke-width="1.3"/>
<circle cx="556.6" cy="221.6" r="2.2" fill="#000" stroke="none" stroke-width="1"/>
<line x1="551.6" y1="236" x2="561.2" y2="236" stroke="#f0a040" stroke-width="1.3"/>
<rect x="554.5" y="233.9" width="4.2" height="4.2" fill="#000" stroke="none" stroke-width="1"/>
<text x="0" y="0" font-size="11.55" transform="translate(565.8 228) scale(0.9434 1)" stroke="#111" stroke-width="0.3">b20/19<tspan font-size="9.12" dy="-3.7">pVEC</tspan></text>
<text x="0" y="0" font-size="11.55" transform="translate(565.8 241.9) scale(0.9434 1)" stroke="#111" stroke-width="0.3">b20/19<tspan font-size="9.12" dy="-3.7">pAKT3</tspan></text>
<text x="0.2" y="397.1" font-size="20" stroke="#111" stroke-width="0.45">h</text>
<text x="0" y="0" font-size="8.72" text-anchor="middle" transform="translate(81 401.7) scale(0.9524 1)" stroke="#111" stroke-width="0.12">% CD8 T cells</text>
<line x1="41" y1="418.4" x2="130.6" y2="418.4" stroke="#777" stroke-width="0.8"/>
<line x1="41" y1="415.8" x2="41" y2="418.4" stroke="#777" stroke-width="0.7"/>
<text x="0" y="0" font-size="9.24" text-anchor="end" transform="translate(37.9 416) rotate(90) scale(0.9524 1)" stroke="#111" stroke-width="0.13">0</text>
<line x1="63.29" y1="415.8" x2="63.29" y2="418.4" stroke="#777" stroke-width="0.7"/>
<text x="0" y="0" font-size="9.24" text-anchor="end" transform="translate(60.19 416) rotate(90) scale(0.9524 1)" stroke="#111" stroke-width="0.13">30</text>
<line x1="85.58" y1="415.8" x2="85.58" y2="418.4" stroke="#777" stroke-width="0.7"/>
<text x="0" y="0" font-size="9.24" text-anchor="end" transform="translate(82.48 416) rotate(90) scale(0.9524 1)" stroke="#111" stroke-width="0.13">60</text>
<line x1="107.87" y1="415.8" x2="107.87" y2="418.4" stroke="#777" stroke-width="0.7"/>
<text x="0" y="0" font-size="9.24" text-anchor="end" transform="translate(104.77 416) rotate(90) scale(0.9524 1)" stroke="#111" stroke-width="0.13">90</text>
<line x1="130.16" y1="415.8" x2="130.16" y2="418.4" stroke="#777" stroke-width="0.7"/>
<text x="0" y="0" font-size="9.24" text-anchor="end" transform="translate(127.06 416) rotate(90) scale(0.9524 1)" stroke="#111" stroke-width="0.13">120</text>
<line x1="41" y1="418.4" x2="41" y2="478" stroke="#777" stroke-width="0.8"/>
<rect x="41" y="424.2" width="24.89" height="21.6" fill="#4da6fb" stroke="#555" stroke-width="0.25"/>
<rect x="65.89" y="424.2" width="40.49" height="21.6" fill="#fb5bbd" stroke="#555" stroke-width="0.25"/>
<rect x="106.38" y="424.2" width="3.72" height="21.6" fill="#7fd5c5" stroke="#555" stroke-width="0.25"/>
<rect x="110.1" y="424.2" width="5.57" height="21.6" fill="#3d4fa8" stroke="#555" stroke-width="0.25"/>
<line x1="38.5" y1="435" x2="41" y2="435" stroke="#777" stroke-width="0.7"/>
<rect x="41" y="451.4" width="13.37" height="21.6" fill="#4da6fb" stroke="#555" stroke-width="0.25"/>
<rect x="54.37" y="451.4" width="52.75" height="21.6" fill="#fb5bbd" stroke="#555" stroke-width="0.25"/>
<rect x="107.13" y="451.4" width="1.19" height="21.6" fill="#7fd5c5" stroke="#555" stroke-width="0.25"/>
<rect x="108.32" y="451.4" width="7.36" height="21.6" fill="#3d4fa8" stroke="#555" stroke-width="0.25"/>
<line x1="38.5" y1="462.2" x2="41" y2="462.2" stroke="#777" stroke-width="0.7"/>
<line x1="65.89" y1="430" x2="65.89" y2="440" stroke="#444" stroke-width="0.5"/>
<line x1="54.37" y1="456" x2="54.37" y2="467" stroke="#444" stroke-width="0.5"/>
<line x1="113.07" y1="431" x2="113.07" y2="439" stroke="#222" stroke-width="0.6"/>
<line x1="112.33" y1="456" x2="112.33" y2="467" stroke="#111" stroke-width="0.9"/>
<text x="0" y="0" font-size="8.93" transform="translate(4.2 409.4) rotate(38) scale(0.9524 1)" stroke="#111" stroke-width="0.1">b20/19<tspan font-size="6.43" dy="-1.7">pVEC</tspan></text>
<text x="0" y="0" font-size="8.93" transform="translate(2.8 435.1) rotate(38) scale(0.9524 1)" stroke="#111" stroke-width="0.1">b20/19<tspan font-size="6.43" dy="-1.7">pAKT3</tspan></text>
<path d="M117.8,435.2 L120.6,435.2 L120.6,462.6 L117.8,462.6" fill="none" stroke="#444" stroke-width="0.7"/>
<text x="119.86" y="449.9" font-size="8.5" text-anchor="middle" font-weight="bold" fill="#111" transform="rotate(90 119.86 449.9)">****</text>
<rect x="53.4" y="478.5" width="3.6" height="3.6" fill="#3d4fa8" stroke="#555" stroke-width="0.2"/>
<text x="0" y="0" font-size="9.03" transform="translate(52.2 484.4) rotate(90) scale(0.9524 1)" stroke="#111" stroke-width="0.13">CD8 T<tspan font-size="5.67" dy="2.2">cm</tspan><tspan dy="-2.2" font-size="8.51"> PD1</tspan><tspan font-size="6.41" dy="-3.1">high</tspan></text>
<rect x="68.7" y="478.5" width="3.6" height="3.6" fill="#7fd5c5" stroke="#555" stroke-width="0.2"/>
<text x="0" y="0" font-size="9.03" transform="translate(67.5 484.4) rotate(90) scale(0.9524 1)" stroke="#111" stroke-width="0.13">CD8 T<tspan font-size="5.67" dy="2.2">cm</tspan><tspan dy="-2.2" font-size="8.51"> PD1</tspan><tspan font-size="6.41" dy="-3.1">low</tspan></text>
<rect x="85.7" y="478.5" width="3.6" height="3.6" fill="#fb5bbd" stroke="#555" stroke-width="0.2"/>
<text x="0" y="0" font-size="9.03" transform="translate(84.5 484.4) rotate(90) scale(0.9524 1)" stroke="#111" stroke-width="0.13">CD8 T<tspan font-size="5.67" dy="2.2">em</tspan><tspan dy="-2.2" font-size="8.51"> PD1</tspan><tspan font-size="6.41" dy="-3.1">high</tspan></text>
<rect x="100.8" y="478.5" width="3.6" height="3.6" fill="#4da6fb" stroke="#555" stroke-width="0.2"/>
<text x="0" y="0" font-size="9.03" transform="translate(99.6 484.4) rotate(90) scale(0.9524 1)" stroke="#111" stroke-width="0.13">CD8 T<tspan font-size="5.67" dy="2.2">em</tspan><tspan dy="-2.2" font-size="8.51"> PD1</tspan><tspan font-size="6.41" dy="-3.1">low</tspan></text>
<text x="0" y="0" font-size="10.61" transform="translate(142.3 405.8) scale(0.9524 1)" stroke="#111" stroke-width="0.15">b20/19<tspan font-size="7.14" dy="-3.9">pVEC</tspan></text>
<path d="M167.1,433.2 L167.1,413.6 A19.6,19.6 0 0 1 183.81,443.44 Z" fill="#4da6fb" stroke="#888" stroke-width="0.3"/>
<path d="M164.75,436.18 L181.46,446.43 A19.6,19.6 0 1 1 150.89,422.32 Z" fill="#fb5bbd" stroke="#888" stroke-width="0.3"/>
<path d="M165.59,431.08 L151.73,417.22 A19.6,19.6 0 0 1 157,413.47 Z" fill="#4aa79a" stroke="#888" stroke-width="0.3"/>
<path d="M166.35,429.68 L158.38,411.77 A19.6,19.6 0 0 1 166.35,410.08 Z" fill="#1a1a9a" stroke="#888" stroke-width="0.3"/>
<text x="0" y="0" font-size="10.61" transform="translate(144.6 477.5) scale(0.9524 1)" stroke="#111" stroke-width="0.15">b20/19<tspan font-size="7.14" dy="-3.9">pAKT3</tspan></text>
<path d="M170.18,500.26 L170.18,481.26 A19,19 0 0 1 188.35,494.7 Z" fill="#4da6fb" stroke="#888" stroke-width="0.3"/>
<path d="M169.7,505.9 L188.05,500.98 A19,19 0 1 1 157.36,491.45 Z" fill="#fb5bbd" stroke="#888" stroke-width="0.3"/>
<path d="M167.6,498.23 L155.26,483.78 A19,19 0 0 1 156.43,482.86 Z" fill="#4aa79a" stroke="#888" stroke-width="0.3"/>
<path d="M168.74,497.85 L157.84,482.28 A19,19 0 0 1 168.74,478.85 Z" fill="#1a1a9a" stroke="#888" stroke-width="0.3"/>
<text x="208.7" y="397.4" font-size="20" stroke="#111" stroke-width="0.45">i</text>
<line x1="259.4" y1="415.9" x2="259.4" y2="496.4" stroke="#555" stroke-width="0.8" stroke-dasharray="4,1.5"/>
<line x1="287.8" y1="415.9" x2="287.8" y2="496.4" stroke="#555" stroke-width="0.8" stroke-dasharray="4,1.5"/>
<line x1="316.4" y1="415.9" x2="316.4" y2="496.4" stroke="#555" stroke-width="0.8" stroke-dasharray="4,1.5"/>
<text x="0" y="0" font-size="7.14" transform="translate(243.2 412) scale(0.9524 1)" stroke="#111" stroke-width="0.14">Glucose</text>
<text x="0" y="0" font-size="7.14" transform="translate(271.3 412) scale(0.9524 1)" stroke="#111" stroke-width="0.14">Oligomycin</text>
<text x="0" y="0" font-size="7.14" transform="translate(308.5 412) scale(0.9524 1)" stroke="#111" stroke-width="0.14">2-DG</text>
<line x1="239" y1="417.7" x2="239" y2="496.4" stroke="#777" stroke-width="0.9"/>
<line x1="236" y1="496.4" x2="239" y2="496.4" stroke="#777" stroke-width="0.8"/>
<text x="0" y="0" font-size="9.03" text-anchor="end" transform="translate(236.4 499.4) scale(0.9524 1)" stroke="#111" stroke-width="0.17">0</text>
<line x1="236" y1="476.72" x2="239" y2="476.72" stroke="#777" stroke-width="0.8"/>
<text x="0" y="0" font-size="9.03" text-anchor="end" transform="translate(236.4 479.72) scale(0.9524 1)" stroke="#111" stroke-width="0.17">20</text>
<line x1="236" y1="457.04" x2="239" y2="457.04" stroke="#777" stroke-width="0.8"/>
<text x="0" y="0" font-size="9.03" text-anchor="end" transform="translate(236.4 460.04) scale(0.9524 1)" stroke="#111" stroke-width="0.17">40</text>
<line x1="236" y1="437.36" x2="239" y2="437.36" stroke="#777" stroke-width="0.8"/>
<text x="0" y="0" font-size="9.03" text-anchor="end" transform="translate(236.4 440.36) scale(0.9524 1)" stroke="#111" stroke-width="0.17">60</text>
<line x1="236" y1="417.68" x2="239" y2="417.68" stroke="#777" stroke-width="0.8"/>
<text x="0" y="0" font-size="9.03" text-anchor="end" transform="translate(236.4 420.68) scale(0.9524 1)" stroke="#111" stroke-width="0.17">80</text>
<line x1="239" y1="496.4" x2="349.8" y2="496.4" stroke="#777" stroke-width="0.9"/>
<line x1="239.6" y1="496.4" x2="239.6" y2="499.2" stroke="#777" stroke-width="0.8"/>
<text x="0" y="0" font-size="9.03" text-anchor="middle" transform="translate(239.6 507) scale(0.9524 1)" stroke="#111" stroke-width="0.17">0</text>
<line x1="261.64" y1="496.4" x2="261.64" y2="499.2" stroke="#777" stroke-width="0.8"/>
<text x="0" y="0" font-size="9.03" text-anchor="middle" transform="translate(261.64 507) scale(0.9524 1)" stroke="#111" stroke-width="0.17">20</text>
<line x1="283.68" y1="496.4" x2="283.68" y2="499.2" stroke="#777" stroke-width="0.8"/>
<text x="0" y="0" font-size="9.03" text-anchor="middle" transform="translate(283.68 507) scale(0.9524 1)" stroke="#111" stroke-width="0.17">40</text>
<line x1="305.72" y1="496.4" x2="305.72" y2="499.2" stroke="#777" stroke-width="0.8"/>
<text x="0" y="0" font-size="9.03" text-anchor="middle" transform="translate(305.72 507) scale(0.9524 1)" stroke="#111" stroke-width="0.17">60</text>
<line x1="327.76" y1="496.4" x2="327.76" y2="499.2" stroke="#777" stroke-width="0.8"/>
<text x="0" y="0" font-size="9.03" text-anchor="middle" transform="translate(327.76 507) scale(0.9524 1)" stroke="#111" stroke-width="0.17">80</text>
<line x1="349.8" y1="496.4" x2="349.8" y2="499.2" stroke="#777" stroke-width="0.8"/>
<text x="0" y="0" font-size="9.03" text-anchor="middle" transform="translate(349.8 507) scale(0.9524 1)" stroke="#111" stroke-width="0.17">100</text>
<text x="0" y="0" font-size="9.03" text-anchor="middle" transform="translate(295 518.7) scale(0.9524 1)" stroke="#111" stroke-width="0.17">Time (min)</text>
<text x="0" y="0" font-size="9.03" text-anchor="middle" transform="translate(224.6 457.4) rotate(-90) scale(0.9524 1)" stroke="#111" stroke-width="0.17">ECAR (mpH/min/norm.unit)</text>
<line x1="240.5" y1="482.4" x2="240.5" y2="484.4" stroke="#555" stroke-width="0.6"/>
<line x1="238.3" y1="482.4" x2="242.7" y2="482.4" stroke="#555" stroke-width="0.6"/>
<line x1="238.3" y1="484.4" x2="242.7" y2="484.4" stroke="#555" stroke-width="0.6"/>
<line x1="250.1" y1="482.6" x2="250.1" y2="484.2" stroke="#555" stroke-width="0.6"/>
<line x1="247.9" y1="482.6" x2="252.3" y2="482.6" stroke="#555" stroke-width="0.6"/>
<line x1="247.9" y1="484.2" x2="252.3" y2="484.2" stroke="#555" stroke-width="0.6"/>
<line x1="259.8" y1="480.5" x2="259.8" y2="482.5" stroke="#555" stroke-width="0.6"/>
<line x1="257.6" y1="480.5" x2="262" y2="480.5" stroke="#555" stroke-width="0.6"/>
<line x1="257.6" y1="482.5" x2="262" y2="482.5" stroke="#555" stroke-width="0.6"/>
<line x1="269.4" y1="454.4" x2="269.4" y2="459.4" stroke="#555" stroke-width="0.6"/>
<line x1="267.2" y1="454.4" x2="271.6" y2="454.4" stroke="#555" stroke-width="0.6"/>
<line x1="267.2" y1="459.4" x2="271.6" y2="459.4" stroke="#555" stroke-width="0.6"/>
<line x1="279" y1="452.2" x2="279" y2="458.2" stroke="#555" stroke-width="0.6"/>
<line x1="276.8" y1="452.2" x2="281.2" y2="452.2" stroke="#555" stroke-width="0.6"/>
<line x1="276.8" y1="458.2" x2="281.2" y2="458.2" stroke="#555" stroke-width="0.6"/>
<line x1="287.8" y1="450.7" x2="287.8" y2="458.7" stroke="#555" stroke-width="0.6"/>
<line x1="285.6" y1="450.7" x2="290" y2="450.7" stroke="#555" stroke-width="0.6"/>
<line x1="285.6" y1="458.7" x2="290" y2="458.7" stroke="#555" stroke-width="0.6"/>
<line x1="298" y1="447.2" x2="298" y2="449.2" stroke="#555" stroke-width="0.6"/>
<line x1="295.8" y1="447.2" x2="300.2" y2="447.2" stroke="#555" stroke-width="0.6"/>
<line x1="295.8" y1="449.2" x2="300.2" y2="449.2" stroke="#555" stroke-width="0.6"/>
<line x1="307.1" y1="435.2" x2="307.1" y2="447.2" stroke="#555" stroke-width="0.6"/>
<line x1="304.9" y1="435.2" x2="309.3" y2="435.2" stroke="#555" stroke-width="0.6"/>
<line x1="304.9" y1="447.2" x2="309.3" y2="447.2" stroke="#555" stroke-width="0.6"/>
<line x1="316.4" y1="427.2" x2="316.4" y2="441.2" stroke="#555" stroke-width="0.6"/>
<line x1="314.2" y1="427.2" x2="318.6" y2="427.2" stroke="#555" stroke-width="0.6"/>
<line x1="314.2" y1="441.2" x2="318.6" y2="441.2" stroke="#555" stroke-width="0.6"/>
<line x1="326" y1="459.3" x2="326" y2="463.3" stroke="#555" stroke-width="0.6"/>
<line x1="323.8" y1="459.3" x2="328.2" y2="459.3" stroke="#555" stroke-width="0.6"/>
<line x1="323.8" y1="463.3" x2="328.2" y2="463.3" stroke="#555" stroke-width="0.6"/>
<line x1="335.5" y1="459.5" x2="335.5" y2="463.1" stroke="#555" stroke-width="0.6"/>
<line x1="333.3" y1="459.5" x2="337.7" y2="459.5" stroke="#555" stroke-width="0.6"/>
<line x1="333.3" y1="463.1" x2="337.7" y2="463.1" stroke="#555" stroke-width="0.6"/>
<line x1="344.8" y1="465" x2="344.8" y2="471" stroke="#555" stroke-width="0.6"/>
<line x1="342.6" y1="465" x2="347" y2="465" stroke="#555" stroke-width="0.6"/>
<line x1="342.6" y1="471" x2="347" y2="471" stroke="#555" stroke-width="0.6"/>
<line x1="240.5" y1="486.1" x2="240.5" y2="488.1" stroke="#555" stroke-width="0.6"/>
<line x1="238.3" y1="486.1" x2="242.7" y2="486.1" stroke="#555" stroke-width="0.6"/>
<line x1="238.3" y1="488.1" x2="242.7" y2="488.1" stroke="#555" stroke-width="0.6"/>
<line x1="250.1" y1="487.1" x2="250.1" y2="488.7" stroke="#555" stroke-width="0.6"/>
<line x1="247.9" y1="487.1" x2="252.3" y2="487.1" stroke="#555" stroke-width="0.6"/>
<line x1="247.9" y1="488.7" x2="252.3" y2="488.7" stroke="#555" stroke-width="0.6"/>
<line x1="259.8" y1="486.1" x2="259.8" y2="488.1" stroke="#555" stroke-width="0.6"/>
<line x1="257.6" y1="486.1" x2="262" y2="486.1" stroke="#555" stroke-width="0.6"/>
<line x1="257.6" y1="488.1" x2="262" y2="488.1" stroke="#555" stroke-width="0.6"/>
<line x1="269.4" y1="469.3" x2="269.4" y2="474.3" stroke="#555" stroke-width="0.6"/>
<line x1="267.2" y1="469.3" x2="271.6" y2="469.3" stroke="#555" stroke-width="0.6"/>
<line x1="267.2" y1="474.3" x2="271.6" y2="474.3" stroke="#555" stroke-width="0.6"/>
<line x1="279" y1="462.9" x2="279" y2="467.5" stroke="#555" stroke-width="0.6"/>
<line x1="276.8" y1="462.9" x2="281.2" y2="462.9" stroke="#555" stroke-width="0.6"/>
<line x1="276.8" y1="467.5" x2="281.2" y2="467.5" stroke="#555" stroke-width="0.6"/>
<line x1="287.8" y1="462.9" x2="287.8" y2="470.9" stroke="#555" stroke-width="0.6"/>
<line x1="285.6" y1="462.9" x2="290" y2="462.9" stroke="#555" stroke-width="0.6"/>
<line x1="285.6" y1="470.9" x2="290" y2="470.9" stroke="#555" stroke-width="0.6"/>
<line x1="298" y1="452.3" x2="298" y2="455.3" stroke="#555" stroke-width="0.6"/>
<line x1="295.8" y1="452.3" x2="300.2" y2="452.3" stroke="#555" stroke-width="0.6"/>
<line x1="295.8" y1="455.3" x2="300.2" y2="455.3" stroke="#555" stroke-width="0.6"/>
<line x1="307.1" y1="450.2" x2="307.1" y2="460.2" stroke="#555" stroke-width="0.6"/>
<line x1="304.9" y1="450.2" x2="309.3" y2="450.2" stroke="#555" stroke-width="0.6"/>
<line x1="304.9" y1="460.2" x2="309.3" y2="460.2" stroke="#555" stroke-width="0.6"/>
<line x1="316.4" y1="442" x2="316.4" y2="452" stroke="#555" stroke-width="0.6"/>
<line x1="314.2" y1="442" x2="318.6" y2="442" stroke="#555" stroke-width="0.6"/>
<line x1="314.2" y1="452" x2="318.6" y2="452" stroke="#555" stroke-width="0.6"/>
<line x1="326" y1="469.8" x2="326" y2="473.8" stroke="#555" stroke-width="0.6"/>
<line x1="323.8" y1="469.8" x2="328.2" y2="469.8" stroke="#555" stroke-width="0.6"/>
<line x1="323.8" y1="473.8" x2="328.2" y2="473.8" stroke="#555" stroke-width="0.6"/>
<line x1="335.5" y1="468.2" x2="335.5" y2="471.2" stroke="#555" stroke-width="0.6"/>
<line x1="333.3" y1="468.2" x2="337.7" y2="468.2" stroke="#555" stroke-width="0.6"/>
<line x1="333.3" y1="471.2" x2="337.7" y2="471.2" stroke="#555" stroke-width="0.6"/>
<line x1="344.8" y1="477.2" x2="344.8" y2="482.2" stroke="#555" stroke-width="0.6"/>
<line x1="342.6" y1="477.2" x2="347" y2="477.2" stroke="#555" stroke-width="0.6"/>
<line x1="342.6" y1="482.2" x2="347" y2="482.2" stroke="#555" stroke-width="0.6"/>
<polyline points="240.5,483.4 250.1,483.4 259.8,481.5 269.4,456.9 279,455.2 287.8,454.7 298,448.2 307.1,441.2 316.4,434.2 326,461.3 335.5,461.3 344.8,468" fill="none" stroke="#f0a030" stroke-width="1.2" stroke-linejoin="round"/>
<polyline points="240.5,487.1 250.1,487.9 259.8,487.1 269.4,471.8 279,465.2 287.8,466.9 298,453.8 307.1,455.2 316.4,447 326,471.8 335.5,469.7 344.8,479.7" fill="none" stroke="#2a36b2" stroke-width="1.2" stroke-linejoin="round"/>
<circle cx="240.5" cy="483.4" r="1.5" fill="#f0a030" stroke="none" stroke-width="1"/>
<circle cx="250.1" cy="483.4" r="1.5" fill="#f0a030" stroke="none" stroke-width="1"/>
<circle cx="259.8" cy="481.5" r="1.5" fill="#f0a030" stroke="none" stroke-width="1"/>
<circle cx="269.4" cy="456.9" r="1.5" fill="#f0a030" stroke="none" stroke-width="1"/>
<circle cx="279" cy="455.2" r="1.5" fill="#f0a030" stroke="none" stroke-width="1"/>
<circle cx="287.8" cy="454.7" r="1.5" fill="#f0a030" stroke="none" stroke-width="1"/>
<circle cx="298" cy="448.2" r="1.5" fill="#f0a030" stroke="none" stroke-width="1"/>
<circle cx="307.1" cy="441.2" r="1.5" fill="#f0a030" stroke="none" stroke-width="1"/>
<circle cx="316.4" cy="434.2" r="1.5" fill="#f0a030" stroke="none" stroke-width="1"/>
<circle cx="326" cy="461.3" r="1.5" fill="#f0a030" stroke="none" stroke-width="1"/>
<circle cx="335.5" cy="461.3" r="1.5" fill="#f0a030" stroke="none" stroke-width="1"/>
<circle cx="344.8" cy="468" r="1.5" fill="#f0a030" stroke="none" stroke-width="1"/>
<circle cx="240.5" cy="487.1" r="1.5" fill="#2a36b2" stroke="none" stroke-width="1"/>
<circle cx="250.1" cy="487.9" r="1.5" fill="#2a36b2" stroke="none" stroke-width="1"/>
<circle cx="259.8" cy="487.1" r="1.5" fill="#2a36b2" stroke="none" stroke-width="1"/>
<circle cx="269.4" cy="471.8" r="1.5" fill="#2a36b2" stroke="none" stroke-width="1"/>
<circle cx="279" cy="465.2" r="1.5" fill="#2a36b2" stroke="none" stroke-width="1"/>
<circle cx="287.8" cy="466.9" r="1.5" fill="#2a36b2" stroke="none" stroke-width="1"/>
<circle cx="298" cy="453.8" r="1.5" fill="#2a36b2" stroke="none" stroke-width="1"/>
<circle cx="307.1" cy="455.2" r="1.5" fill="#2a36b2" stroke="none" stroke-width="1"/>
<circle cx="316.4" cy="447" r="1.5" fill="#2a36b2" stroke="none" stroke-width="1"/>
<circle cx="326" cy="471.8" r="1.5" fill="#2a36b2" stroke="none" stroke-width="1"/>
<circle cx="335.5" cy="469.7" r="1.5" fill="#2a36b2" stroke="none" stroke-width="1"/>
<circle cx="344.8" cy="479.7" r="1.5" fill="#2a36b2" stroke="none" stroke-width="1"/>
<line x1="326.1" y1="428" x2="332.6" y2="428" stroke="#2a36b2" stroke-width="1.2"/>
<circle cx="329.4" cy="428" r="1.6" fill="#2a36b2" stroke="none" stroke-width="1"/>
<line x1="326.1" y1="441.5" x2="332.6" y2="441.5" stroke="#f0a030" stroke-width="1.2"/>
<circle cx="329.4" cy="441.5" r="1.6" fill="#f0a030" stroke="none" stroke-width="1"/>
<text x="0" y="0" font-size="9.77" transform="translate(336.6 433.3) scale(0.9524 1)" stroke="#111" stroke-width="0.19">b20/19<tspan font-size="6.51" dy="-3.6">pVEC</tspan></text>
<text x="0" y="0" font-size="9.77" transform="translate(336.6 446.4) scale(0.9524 1)" stroke="#111" stroke-width="0.19">b20/19<tspan font-size="6.51" dy="-3.6">pAKT3</tspan></text>
<text x="373.1" y="396.7" font-size="20" stroke="#111" stroke-width="0.45">j</text>
<line x1="405.9" y1="419.6" x2="405.9" y2="479.4" stroke="#bbb" stroke-width="0.9"/>
<line x1="404" y1="479.4" x2="405.9" y2="479.4" stroke="#999" stroke-width="0.7"/>
<text x="0" y="0" font-size="7.35" text-anchor="end" transform="translate(402.8 481.9) scale(0.9524 1)" stroke="#111" stroke-width="0.14">0</text>
<line x1="404" y1="464.45" x2="405.9" y2="464.45" stroke="#999" stroke-width="0.7"/>
<text x="0" y="0" font-size="7.35" text-anchor="end" transform="translate(402.8 466.95) scale(0.9524 1)" stroke="#111" stroke-width="0.14">5</text>
<line x1="404" y1="449.5" x2="405.9" y2="449.5" stroke="#999" stroke-width="0.7"/>
<text x="0" y="0" font-size="7.35" text-anchor="end" transform="translate(402.8 452) scale(0.9524 1)" stroke="#111" stroke-width="0.14">10</text>
<line x1="404" y1="434.55" x2="405.9" y2="434.55" stroke="#999" stroke-width="0.7"/>
<text x="0" y="0" font-size="7.35" text-anchor="end" transform="translate(402.8 437.05) scale(0.9524 1)" stroke="#111" stroke-width="0.14">15</text>
<line x1="404" y1="419.6" x2="405.9" y2="419.6" stroke="#999" stroke-width="0.7"/>
<text x="0" y="0" font-size="7.35" text-anchor="end" transform="translate(402.8 422.1) scale(0.9524 1)" stroke="#111" stroke-width="0.14">20</text>
<line x1="405.9" y1="479.4" x2="433" y2="479.4" stroke="#bbb" stroke-width="0.9"/>
<rect x="408.1" y="448.1" width="8.8" height="31.3" fill="#4a82b4" stroke="#2d5a85" stroke-width="0.5"/>
<rect x="421.5" y="439.8" width="8.7" height="39.6" fill="#f0a030" stroke="#b07420" stroke-width="0.5"/>
<line x1="412.5" y1="479.4" x2="412.5" y2="482" stroke="#999" stroke-width="0.7"/>
<line x1="425.9" y1="479.4" x2="425.9" y2="482" stroke="#999" stroke-width="0.7"/>
<line x1="412.5" y1="446" x2="412.5" y2="450" stroke="#ddd" stroke-width="0.6"/>
<line x1="410.7" y1="446" x2="414.3" y2="446" stroke="#ddd" stroke-width="0.6"/>
<line x1="410.7" y1="450" x2="414.3" y2="450" stroke="#ddd" stroke-width="0.6"/>
<line x1="425.9" y1="437.5" x2="425.9" y2="442" stroke="#ddd" stroke-width="0.6"/>
<line x1="424.1" y1="437.5" x2="427.7" y2="437.5" stroke="#ddd" stroke-width="0.6"/>
<line x1="424.1" y1="442" x2="427.7" y2="442" stroke="#ddd" stroke-width="0.6"/>
<circle cx="409.6" cy="443.7" r="1.45" fill="#000" stroke="none" stroke-width="1"/>
<circle cx="415.7" cy="443.7" r="1.45" fill="#000" stroke="none" stroke-width="1"/>
<circle cx="409.6" cy="446.9" r="1.45" fill="#000" stroke="none" stroke-width="1"/>
<circle cx="415.7" cy="446.9" r="1.45" fill="#000" stroke="none" stroke-width="1"/>
<circle cx="412.6" cy="452.7" r="1.45" fill="#000" stroke="none" stroke-width="1"/>
<circle cx="412.6" cy="455.9" r="1.45" fill="#000" stroke="none" stroke-width="1"/>
<circle cx="425.9" cy="428.6" r="1.45" fill="#000" stroke="none" stroke-width="1"/>
<circle cx="425.9" cy="434.7" r="1.45" fill="#000" stroke="none" stroke-width="1"/>
<circle cx="422.7" cy="440.5" r="1.45" fill="#000" stroke="none" stroke-width="1"/>
<circle cx="429.1" cy="440.5" r="1.45" fill="#000" stroke="none" stroke-width="1"/>
<circle cx="425.9" cy="443.7" r="1.45" fill="#000" stroke="none" stroke-width="1"/>
<circle cx="425.9" cy="449.8" r="1.45" fill="#000" stroke="none" stroke-width="1"/>
<path d="M412.5,441.5 L412.5,422.1 L426.3,422.1 L426.3,425.5" fill="none" stroke="#999" stroke-width="0.8"/>
<text x="419.5" y="423.56" font-size="9" text-anchor="middle" font-weight="bold" fill="#111">*</text>
<text x="0" y="0" font-size="7.67" text-anchor="middle" transform="translate(392.6 452.6) rotate(-90) scale(0.9524 1)" stroke="#111" stroke-width="0.15">ECAR (mpH/min/norm.unit)</text>
<text x="0" y="0" font-size="7.88" transform="translate(389.3 512.2) rotate(-45) scale(0.9524 1)" stroke="#111" stroke-width="0.1">b20/19<tspan font-size="5.67" dy="-1.5">pVEC</tspan></text>
<text x="0" y="0" font-size="7.88" transform="translate(400.2 513.7) rotate(-45) scale(0.9524 1)" stroke="#111" stroke-width="0.1">b20/19<tspan font-size="5.67" dy="-1.5">pAKT3</tspan></text>
<text x="442.8" y="396.6" font-size="20" stroke="#111" stroke-width="0.45">k</text>
<line x1="495.6" y1="405" x2="495.6" y2="497.3" stroke="#888" stroke-width="0.8" stroke-dasharray="3.5,1.6"/>
<line x1="523.4" y1="405" x2="523.4" y2="497.3" stroke="#888" stroke-width="0.8" stroke-dasharray="3.5,1.6"/>
<line x1="550.6" y1="405" x2="550.6" y2="497.3" stroke="#888" stroke-width="0.8" stroke-dasharray="3.5,1.6"/>
<text x="0" y="0" font-size="6.09" transform="translate(480.2 417.1) scale(0.9524 1)" stroke="#111" stroke-width="0.12">Oligomycin</text>
<text x="0" y="0" font-size="6.09" transform="translate(514.4 417.1) scale(0.9524 1)" stroke="#111" stroke-width="0.12">FCCP</text>
<text x="0" y="0" font-size="6.09" transform="translate(537.1 410.8) scale(0.9524 1)" stroke="#111" stroke-width="0.12">Rotenone/</text>
<text x="0" y="0" font-size="6.09" transform="translate(537.1 417.8) scale(0.9524 1)" stroke="#111" stroke-width="0.12">Antimycin A</text>
<line x1="476.5" y1="421.6" x2="476.5" y2="497.3" stroke="#777" stroke-width="0.9"/>
<line x1="473.6" y1="497.3" x2="476.5" y2="497.3" stroke="#777" stroke-width="0.8"/>
<text x="0" y="0" font-size="9.03" text-anchor="end" transform="translate(474 500.3) scale(0.9524 1)" stroke="#111" stroke-width="0.17">0</text>
<line x1="473.6" y1="482.12" x2="476.5" y2="482.12" stroke="#777" stroke-width="0.8"/>
<text x="0" y="0" font-size="9.03" text-anchor="end" transform="translate(474 485.12) scale(0.9524 1)" stroke="#111" stroke-width="0.17">50</text>
<line x1="473.6" y1="466.94" x2="476.5" y2="466.94" stroke="#777" stroke-width="0.8"/>
<text x="0" y="0" font-size="9.03" text-anchor="end" transform="translate(474 469.94) scale(0.9524 1)" stroke="#111" stroke-width="0.17">100</text>
<line x1="473.6" y1="451.76" x2="476.5" y2="451.76" stroke="#777" stroke-width="0.8"/>
<text x="0" y="0" font-size="9.03" text-anchor="end" transform="translate(474 454.76) scale(0.9524 1)" stroke="#111" stroke-width="0.17">150</text>
<line x1="473.6" y1="436.58" x2="476.5" y2="436.58" stroke="#777" stroke-width="0.8"/>
<text x="0" y="0" font-size="9.03" text-anchor="end" transform="translate(474 439.58) scale(0.9524 1)" stroke="#111" stroke-width="0.17">200</text>
<line x1="473.6" y1="421.4" x2="476.5" y2="421.4" stroke="#777" stroke-width="0.8"/>
<text x="0" y="0" font-size="9.03" text-anchor="end" transform="translate(474 424.4) scale(0.9524 1)" stroke="#111" stroke-width="0.17">250</text>
<line x1="476.5" y1="497.3" x2="582.5" y2="497.3" stroke="#777" stroke-width="0.9"/>
<line x1="476.4" y1="497.3" x2="476.4" y2="500" stroke="#777" stroke-width="0.8"/>
<text x="0" y="0" font-size="8.72" text-anchor="middle" transform="translate(476.4 507.5) scale(0.9524 1)" stroke="#111" stroke-width="0.17">0</text>
<line x1="497.4" y1="497.3" x2="497.4" y2="500" stroke="#777" stroke-width="0.8"/>
<text x="0" y="0" font-size="8.72" text-anchor="middle" transform="translate(497.4 507.5) scale(0.9524 1)" stroke="#111" stroke-width="0.17">20</text>
<line x1="518.4" y1="497.3" x2="518.4" y2="500" stroke="#777" stroke-width="0.8"/>
<text x="0" y="0" font-size="8.72" text-anchor="middle" transform="translate(518.4 507.5) scale(0.9524 1)" stroke="#111" stroke-width="0.17">40</text>
<line x1="539.4" y1="497.3" x2="539.4" y2="500" stroke="#777" stroke-width="0.8"/>
<text x="0" y="0" font-size="8.72" text-anchor="middle" transform="translate(539.4 507.5) scale(0.9524 1)" stroke="#111" stroke-width="0.17">60</text>
<line x1="560.4" y1="497.3" x2="560.4" y2="500" stroke="#777" stroke-width="0.8"/>
<text x="0" y="0" font-size="8.72" text-anchor="middle" transform="translate(560.4 507.5) scale(0.9524 1)" stroke="#111" stroke-width="0.17">80</text>
<line x1="581.4" y1="497.3" x2="581.4" y2="500" stroke="#777" stroke-width="0.8"/>
<text x="0" y="0" font-size="8.72" text-anchor="middle" transform="translate(581.4 507.5) scale(0.9524 1)" stroke="#111" stroke-width="0.17">100</text>
<text x="0" y="0" font-size="8.51" text-anchor="middle" transform="translate(529.6 519.1) scale(0.9524 1)" stroke="#111" stroke-width="0.16">Time (min)</text>
<text x="0" y="0" font-size="8.72" text-anchor="middle" transform="translate(458.3 456.8) rotate(-90) scale(0.9524 1)" stroke="#111" stroke-width="0.17">OCR (pmol/min/norm.unit)</text>
<line x1="476.9" y1="456.9" x2="476.9" y2="459.9" stroke="#555" stroke-width="0.6"/>
<line x1="474.9" y1="456.9" x2="478.9" y2="456.9" stroke="#555" stroke-width="0.6"/>
<line x1="474.9" y1="459.9" x2="478.9" y2="459.9" stroke="#555" stroke-width="0.6"/>
<line x1="486" y1="456.9" x2="486" y2="459.9" stroke="#555" stroke-width="0.6"/>
<line x1="484" y1="456.9" x2="488" y2="456.9" stroke="#555" stroke-width="0.6"/>
<line x1="484" y1="459.9" x2="488" y2="459.9" stroke="#555" stroke-width="0.6"/>
<line x1="495.2" y1="457.2" x2="495.2" y2="461.2" stroke="#555" stroke-width="0.6"/>
<line x1="493.2" y1="457.2" x2="497.2" y2="457.2" stroke="#555" stroke-width="0.6"/>
<line x1="493.2" y1="461.2" x2="497.2" y2="461.2" stroke="#555" stroke-width="0.6"/>
<line x1="505" y1="482" x2="505" y2="484" stroke="#555" stroke-width="0.6"/>
<line x1="503" y1="482" x2="507" y2="482" stroke="#555" stroke-width="0.6"/>
<line x1="503" y1="484" x2="507" y2="484" stroke="#555" stroke-width="0.6"/>
<line x1="514.6" y1="484.9" x2="514.6" y2="487.9" stroke="#555" stroke-width="0.6"/>
<line x1="512.6" y1="484.9" x2="516.6" y2="484.9" stroke="#555" stroke-width="0.6"/>
<line x1="512.6" y1="487.9" x2="516.6" y2="487.9" stroke="#555" stroke-width="0.6"/>
<line x1="523.8" y1="487.1" x2="523.8" y2="489.1" stroke="#555" stroke-width="0.6"/>
<line x1="521.8" y1="487.1" x2="525.8" y2="487.1" stroke="#555" stroke-width="0.6"/>
<line x1="521.8" y1="489.1" x2="525.8" y2="489.1" stroke="#555" stroke-width="0.6"/>
<line x1="533" y1="447.7" x2="533" y2="453.7" stroke="#555" stroke-width="0.6"/>
<line x1="531" y1="447.7" x2="535" y2="447.7" stroke="#555" stroke-width="0.6"/>
<line x1="531" y1="453.7" x2="535" y2="453.7" stroke="#555" stroke-width="0.6"/>
<line x1="542.2" y1="449.1" x2="542.2" y2="455.1" stroke="#555" stroke-width="0.6"/>
<line x1="540.2" y1="449.1" x2="544.2" y2="449.1" stroke="#555" stroke-width="0.6"/>
<line x1="540.2" y1="455.1" x2="544.2" y2="455.1" stroke="#555" stroke-width="0.6"/>
<line x1="550.8" y1="453.4" x2="550.8" y2="459.4" stroke="#555" stroke-width="0.6"/>
<line x1="548.8" y1="453.4" x2="552.8" y2="453.4" stroke="#555" stroke-width="0.6"/>
<line x1="548.8" y1="459.4" x2="552.8" y2="459.4" stroke="#555" stroke-width="0.6"/>
<line x1="560.6" y1="485.9" x2="560.6" y2="488.9" stroke="#555" stroke-width="0.6"/>
<line x1="558.6" y1="485.9" x2="562.6" y2="485.9" stroke="#555" stroke-width="0.6"/>
<line x1="558.6" y1="488.9" x2="562.6" y2="488.9" stroke="#555" stroke-width="0.6"/>
<line x1="569.8" y1="487.1" x2="569.8" y2="491.1" stroke="#555" stroke-width="0.6"/>
<line x1="567.8" y1="487.1" x2="571.8" y2="487.1" stroke="#555" stroke-width="0.6"/>
<line x1="567.8" y1="491.1" x2="571.8" y2="491.1" stroke="#555" stroke-width="0.6"/>
<line x1="579.6" y1="489" x2="579.6" y2="492" stroke="#555" stroke-width="0.6"/>
<line x1="577.6" y1="489" x2="581.6" y2="489" stroke="#555" stroke-width="0.6"/>
<line x1="577.6" y1="492" x2="581.6" y2="492" stroke="#555" stroke-width="0.6"/>
<line x1="476.9" y1="443.5" x2="476.9" y2="444.7" stroke="#555" stroke-width="0.6"/>
<line x1="474.9" y1="443.5" x2="478.9" y2="443.5" stroke="#555" stroke-width="0.6"/>
<line x1="474.9" y1="444.7" x2="478.9" y2="444.7" stroke="#555" stroke-width="0.6"/>
<line x1="486" y1="448" x2="486" y2="450" stroke="#555" stroke-width="0.6"/>
<line x1="484" y1="448" x2="488" y2="448" stroke="#555" stroke-width="0.6"/>
<line x1="484" y1="450" x2="488" y2="450" stroke="#555" stroke-width="0.6"/>
<line x1="495.2" y1="448.7" x2="495.2" y2="452.7" stroke="#555" stroke-width="0.6"/>
<line x1="493.2" y1="448.7" x2="497.2" y2="448.7" stroke="#555" stroke-width="0.6"/>
<line x1="493.2" y1="452.7" x2="497.2" y2="452.7" stroke="#555" stroke-width="0.6"/>
<line x1="505" y1="478.7" x2="505" y2="480.7" stroke="#555" stroke-width="0.6"/>
<line x1="503" y1="478.7" x2="507" y2="478.7" stroke="#555" stroke-width="0.6"/>
<line x1="503" y1="480.7" x2="507" y2="480.7" stroke="#555" stroke-width="0.6"/>
<line x1="514.6" y1="480.7" x2="514.6" y2="482.7" stroke="#555" stroke-width="0.6"/>
<line x1="512.6" y1="480.7" x2="516.6" y2="480.7" stroke="#555" stroke-width="0.6"/>
<line x1="512.6" y1="482.7" x2="516.6" y2="482.7" stroke="#555" stroke-width="0.6"/>
<line x1="523.8" y1="480.7" x2="523.8" y2="482.7" stroke="#555" stroke-width="0.6"/>
<line x1="521.8" y1="480.7" x2="525.8" y2="480.7" stroke="#555" stroke-width="0.6"/>
<line x1="521.8" y1="482.7" x2="525.8" y2="482.7" stroke="#555" stroke-width="0.6"/>
<line x1="533" y1="436.4" x2="533" y2="442.4" stroke="#555" stroke-width="0.6"/>
<line x1="531" y1="436.4" x2="535" y2="436.4" stroke="#555" stroke-width="0.6"/>
<line x1="531" y1="442.4" x2="535" y2="442.4" stroke="#555" stroke-width="0.6"/>
<line x1="542.2" y1="438.3" x2="542.2" y2="443.3" stroke="#555" stroke-width="0.6"/>
<line x1="540.2" y1="438.3" x2="544.2" y2="438.3" stroke="#555" stroke-width="0.6"/>
<line x1="540.2" y1="443.3" x2="544.2" y2="443.3" stroke="#555" stroke-width="0.6"/>
<line x1="550.8" y1="440.4" x2="550.8" y2="445.4" stroke="#555" stroke-width="0.6"/>
<line x1="548.8" y1="440.4" x2="552.8" y2="440.4" stroke="#555" stroke-width="0.6"/>
<line x1="548.8" y1="445.4" x2="552.8" y2="445.4" stroke="#555" stroke-width="0.6"/>
<line x1="560.6" y1="480.8" x2="560.6" y2="483.8" stroke="#555" stroke-width="0.6"/>
<line x1="558.6" y1="480.8" x2="562.6" y2="480.8" stroke="#555" stroke-width="0.6"/>
<line x1="558.6" y1="483.8" x2="562.6" y2="483.8" stroke="#555" stroke-width="0.6"/>
<line x1="569.8" y1="482.3" x2="569.8" y2="485.3" stroke="#555" stroke-width="0.6"/>
<line x1="567.8" y1="482.3" x2="571.8" y2="482.3" stroke="#555" stroke-width="0.6"/>
<line x1="567.8" y1="485.3" x2="571.8" y2="485.3" stroke="#555" stroke-width="0.6"/>
<line x1="579.6" y1="484.9" x2="579.6" y2="487.9" stroke="#555" stroke-width="0.6"/>
<line x1="577.6" y1="484.9" x2="581.6" y2="484.9" stroke="#555" stroke-width="0.6"/>
<line x1="577.6" y1="487.9" x2="581.6" y2="487.9" stroke="#555" stroke-width="0.6"/>
<polyline points="476.9,458.4 486,458.4 495.2,459.2 505,483 514.6,486.4 523.8,488.1 533,450.7 542.2,452.1 550.8,456.4 560.6,487.4 569.8,489.1 579.6,490.5" fill="none" stroke="#f0a030" stroke-width="1.2" stroke-linejoin="round"/>
<polyline points="476.9,444.1 486,449 495.2,450.7 505,479.7 514.6,481.7 523.8,481.7 533,439.4 542.2,440.8 550.8,442.9 560.6,482.3 569.8,483.8 579.6,486.4" fill="none" stroke="#3a68b0" stroke-width="1.2" stroke-linejoin="round"/>
<circle cx="476.9" cy="458.4" r="1.4" fill="#f0a030" stroke="none" stroke-width="1"/>
<circle cx="486" cy="458.4" r="1.4" fill="#f0a030" stroke="none" stroke-width="1"/>
<circle cx="495.2" cy="459.2" r="1.4" fill="#f0a030" stroke="none" stroke-width="1"/>
<circle cx="505" cy="483" r="1.4" fill="#f0a030" stroke="none" stroke-width="1"/>
<circle cx="514.6" cy="486.4" r="1.4" fill="#f0a030" stroke="none" stroke-width="1"/>
<circle cx="523.8" cy="488.1" r="1.4" fill="#f0a030" stroke="none" stroke-width="1"/>
<circle cx="533" cy="450.7" r="1.4" fill="#f0a030" stroke="none" stroke-width="1"/>
<circle cx="542.2" cy="452.1" r="1.4" fill="#f0a030" stroke="none" stroke-width="1"/>
<circle cx="550.8" cy="456.4" r="1.4" fill="#f0a030" stroke="none" stroke-width="1"/>
<circle cx="560.6" cy="487.4" r="1.4" fill="#f0a030" stroke="none" stroke-width="1"/>
<circle cx="569.8" cy="489.1" r="1.4" fill="#f0a030" stroke="none" stroke-width="1"/>
<circle cx="579.6" cy="490.5" r="1.4" fill="#f0a030" stroke="none" stroke-width="1"/>
<circle cx="476.9" cy="444.1" r="1.4" fill="#3a68b0" stroke="none" stroke-width="1"/>
<circle cx="486" cy="449" r="1.4" fill="#3a68b0" stroke="none" stroke-width="1"/>
<circle cx="495.2" cy="450.7" r="1.4" fill="#3a68b0" stroke="none" stroke-width="1"/>
<circle cx="505" cy="479.7" r="1.4" fill="#3a68b0" stroke="none" stroke-width="1"/>
<circle cx="514.6" cy="481.7" r="1.4" fill="#3a68b0" stroke="none" stroke-width="1"/>
<circle cx="523.8" cy="481.7" r="1.4" fill="#3a68b0" stroke="none" stroke-width="1"/>
<circle cx="533" cy="439.4" r="1.4" fill="#3a68b0" stroke="none" stroke-width="1"/>
<circle cx="542.2" cy="440.8" r="1.4" fill="#3a68b0" stroke="none" stroke-width="1"/>
<circle cx="550.8" cy="442.9" r="1.4" fill="#3a68b0" stroke="none" stroke-width="1"/>
<circle cx="560.6" cy="482.3" r="1.4" fill="#3a68b0" stroke="none" stroke-width="1"/>
<circle cx="569.8" cy="483.8" r="1.4" fill="#3a68b0" stroke="none" stroke-width="1"/>
<circle cx="579.6" cy="486.4" r="1.4" fill="#3a68b0" stroke="none" stroke-width="1"/>
<line x1="559.7" y1="446.8" x2="566.8" y2="446.8" stroke="#3a68b0" stroke-width="1.2"/>
<circle cx="563.2" cy="446.8" r="1.6" fill="#3a68b0" stroke="none" stroke-width="1"/>
<line x1="559.7" y1="457.8" x2="566.8" y2="457.8" stroke="#f0a030" stroke-width="1.2"/>
<circle cx="563.2" cy="457.8" r="1.6" fill="#f0a030" stroke="none" stroke-width="1"/>
<text x="0" y="0" font-size="9.35" transform="translate(569.8 451.7) scale(0.9524 1)" stroke="#111" stroke-width="0.18">b20/19<tspan font-size="6.3" dy="-3.5">pVEC</tspan></text>
<text x="0" y="0" font-size="9.35" transform="translate(569.8 463.5) scale(0.9524 1)" stroke="#111" stroke-width="0.18">b20/19<tspan font-size="6.3" dy="-3.5">pAKT3</tspan></text>
<text x="594.3" y="397.1" font-size="20" stroke="#111" stroke-width="0.45">l</text>
<line x1="645.5" y1="418.2" x2="645.5" y2="479.3" stroke="#bbb" stroke-width="0.9"/>
<line x1="643.8" y1="479.3" x2="645.5" y2="479.3" stroke="#999" stroke-width="0.7"/>
<text x="0" y="0" font-size="7.88" text-anchor="end" transform="translate(642.8 482) scale(0.9524 1)" stroke="#111" stroke-width="0.15">0</text>
<line x1="643.8" y1="467.08" x2="645.5" y2="467.08" stroke="#999" stroke-width="0.7"/>
<text x="0" y="0" font-size="7.88" text-anchor="end" transform="translate(642.8 469.78) scale(0.9524 1)" stroke="#111" stroke-width="0.15">50</text>
<line x1="643.8" y1="454.86" x2="645.5" y2="454.86" stroke="#999" stroke-width="0.7"/>
<text x="0" y="0" font-size="7.88" text-anchor="end" transform="translate(642.8 457.56) scale(0.9524 1)" stroke="#111" stroke-width="0.15">100</text>
<line x1="643.8" y1="442.64" x2="645.5" y2="442.64" stroke="#999" stroke-width="0.7"/>
<text x="0" y="0" font-size="7.88" text-anchor="end" transform="translate(642.8 445.34) scale(0.9524 1)" stroke="#111" stroke-width="0.15">150</text>
<line x1="643.8" y1="430.42" x2="645.5" y2="430.42" stroke="#999" stroke-width="0.7"/>
<text x="0" y="0" font-size="7.88" text-anchor="end" transform="translate(642.8 433.12) scale(0.9524 1)" stroke="#111" stroke-width="0.15">200</text>
<line x1="643.8" y1="418.2" x2="645.5" y2="418.2" stroke="#999" stroke-width="0.7"/>
<text x="0" y="0" font-size="7.88" text-anchor="end" transform="translate(642.8 420.9) scale(0.9524 1)" stroke="#111" stroke-width="0.15">250</text>
<line x1="645.5" y1="479.3" x2="672" y2="479.3" stroke="#bbb" stroke-width="0.9"/>
<rect x="647.8" y="436.8" width="9.1" height="42.5" fill="#4a82b4" stroke="#2d5a85" stroke-width="0.5"/>
<rect x="661.3" y="447" width="8.7" height="32.3" fill="#f0a030" stroke="#b07420" stroke-width="0.5"/>
<line x1="652.3" y1="479.3" x2="652.3" y2="481.9" stroke="#999" stroke-width="0.7"/>
<line x1="665.7" y1="479.3" x2="665.7" y2="481.9" stroke="#999" stroke-width="0.7"/>
<line x1="652.3" y1="434.5" x2="652.3" y2="439" stroke="#ddd" stroke-width="0.6"/>
<line x1="650.5" y1="434.5" x2="654.1" y2="434.5" stroke="#ddd" stroke-width="0.6"/>
<line x1="650.5" y1="439" x2="654.1" y2="439" stroke="#ddd" stroke-width="0.6"/>
<line x1="665.6" y1="444.5" x2="665.6" y2="449" stroke="#ddd" stroke-width="0.6"/>
<line x1="663.8" y1="444.5" x2="667.4" y2="444.5" stroke="#ddd" stroke-width="0.6"/>
<line x1="663.8" y1="449" x2="667.4" y2="449" stroke="#ddd" stroke-width="0.6"/>
<circle cx="652.1" cy="430.9" r="1.45" fill="#000" stroke="none" stroke-width="1"/>
<circle cx="650.2" cy="434.7" r="1.45" fill="#000" stroke="none" stroke-width="1"/>
<circle cx="654.1" cy="434.7" r="1.45" fill="#000" stroke="none" stroke-width="1"/>
<circle cx="652.1" cy="439.6" r="1.45" fill="#000" stroke="none" stroke-width="1"/>
<circle cx="655.4" cy="439.6" r="1.45" fill="#000" stroke="none" stroke-width="1"/>
<circle cx="648.9" cy="441.5" r="1.45" fill="#000" stroke="none" stroke-width="1"/>
<circle cx="665.6" cy="441.1" r="1.45" fill="#000" stroke="none" stroke-width="1"/>
<circle cx="665.6" cy="443.9" r="1.45" fill="#000" stroke="none" stroke-width="1"/>
<circle cx="662.2" cy="447.2" r="1.45" fill="#000" stroke="none" stroke-width="1"/>
<circle cx="665.6" cy="447.7" r="1.45" fill="#000" stroke="none" stroke-width="1"/>
<circle cx="668.5" cy="449.5" r="1.45" fill="#000" stroke="none" stroke-width="1"/>
<circle cx="662.2" cy="450.9" r="1.45" fill="#000" stroke="none" stroke-width="1"/>
<path d="M652.3,428.7 L652.3,423.4 L665.9,423.4 L665.9,437.2" fill="none" stroke="#777" stroke-width="0.8"/>
<text x="658.7" y="424.51" font-size="8.2" text-anchor="middle" font-weight="bold" fill="#111">***</text>
<text x="0" y="0" font-size="7.77" text-anchor="middle" transform="translate(628.4 451.6) rotate(-90) scale(0.9524 1)" stroke="#111" stroke-width="0.15">OCR (pmol/min/norm.unit)</text>
<text x="0" y="0" font-size="7.88" transform="translate(628.2 511.9) rotate(-45) scale(0.9524 1)" stroke="#111" stroke-width="0.1">b20/19<tspan font-size="5.67" dy="-1.5">pVEC</tspan></text>
<text x="0" y="0" font-size="7.88" transform="translate(639.9 513.7) rotate(-45) scale(0.9524 1)" stroke="#111" stroke-width="0.1">b20/19<tspan font-size="5.67" dy="-1.5">pAKT3</tspan></text>
<text x="0.5" y="584.7" font-size="20" stroke="#111" stroke-width="0.45">m</text>
<text x="0" y="0" font-size="10.4" transform="translate(34.2 593.8) scale(0.9709 1)" stroke="#111" stroke-width="0.1">pLenti-shAKT3</text>
<text x="0" y="0" font-size="10.92" transform="translate(9.1 606.5) scale(0.9709 1)" stroke="#111" stroke-width="0.1">3’LTR</text>
<text x="0" y="0" font-size="10.92" transform="translate(94 606.5) scale(0.9709 1)" stroke="#111" stroke-width="0.1">5’LTR</text>
<rect x="18.85" y="608.4" width="3.53" height="12.7" rx="0.8" fill="#d4d4d4" stroke="#8a8a8a" stroke-width="0.5"/>
<line x1="22.33" y1="614.75" x2="23.33" y2="614.75" stroke="#666" stroke-width="0.6"/>
<rect x="23.28" y="608.4" width="3.53" height="12.7" rx="0.8" fill="#d4d4d4" stroke="#8a8a8a" stroke-width="0.5"/>
<line x1="26.77" y1="614.75" x2="27.77" y2="614.75" stroke="#666" stroke-width="0.6"/>
<rect x="27.72" y="608.4" width="3.53" height="12.7" rx="0.8" fill="#d4d4d4" stroke="#8a8a8a" stroke-width="0.5"/>
<line x1="31.7" y1="614.6" x2="37" y2="614.6" stroke="#777" stroke-width="0.8"/>
<path d="M37,608.4 L40.2,608.4 L42.9,614.6 L40.2,620.8 L37,620.8 Z" fill="#f06a6a" stroke="none" stroke-width="1"/>
<rect x="43.3" y="608.4" width="52.2" height="12.3" fill="#a8e2d8" stroke="#6aa8a0" stroke-width="0.6"/>
<text x="0" y="0" font-size="10.61" text-anchor="middle" transform="translate(70.6 618.5) scale(0.9709 1)" stroke="#111" stroke-width="0.1">shAKT3</text>
<line x1="95.5" y1="614.6" x2="101.5" y2="614.6" stroke="#777" stroke-width="0.8"/>
<rect x="101.95" y="608.4" width="3.53" height="12.7" rx="0.8" fill="#d4d4d4" stroke="#8a8a8a" stroke-width="0.5"/>
<line x1="105.43" y1="614.75" x2="106.43" y2="614.75" stroke="#666" stroke-width="0.6"/>
<rect x="106.38" y="608.4" width="3.53" height="12.7" rx="0.8" fill="#d4d4d4" stroke="#8a8a8a" stroke-width="0.5"/>
<line x1="109.87" y1="614.75" x2="110.87" y2="614.75" stroke="#666" stroke-width="0.6"/>
<rect x="110.82" y="608.4" width="3.53" height="12.7" rx="0.8" fill="#d4d4d4" stroke="#8a8a8a" stroke-width="0.5"/>
<text x="0" y="0" font-size="10.4" transform="translate(31.7 632.1) scale(0.9709 1)" stroke="#111" stroke-width="0.1">U6</text>
<line x1="62.4" y1="647.4" x2="71.3" y2="631.66" stroke="#aaa" stroke-width="3.43" stroke-linecap="round"/>
<line x1="62.4" y1="647.4" x2="71.3" y2="631.66" stroke="#fff" stroke-width="2.9" stroke-linecap="round"/>
<line x1="62.8" y1="646.7" x2="70.9" y2="632.36" stroke="#c8a820" stroke-width="2.82" stroke-linecap="round"/>
<line x1="62.8" y1="646.7" x2="70.9" y2="632.36" stroke="#f2dc5a" stroke-width="2.2" stroke-linecap="round"/>
<line x1="66.1" y1="649.42" x2="74.99" y2="633.68" stroke="#aaa" stroke-width="3.43" stroke-linecap="round"/>
<line x1="66.1" y1="649.42" x2="74.99" y2="633.68" stroke="#fff" stroke-width="2.9" stroke-linecap="round"/>
<line x1="66.5" y1="648.72" x2="74.59" y2="634.38" stroke="#c8a820" stroke-width="2.82" stroke-linecap="round"/>
<line x1="66.5" y1="648.72" x2="74.59" y2="634.38" stroke="#f2dc5a" stroke-width="2.2" stroke-linecap="round"/>
<line x1="69.79" y1="651.45" x2="78.69" y2="635.7" stroke="#aaa" stroke-width="3.43" stroke-linecap="round"/>
<line x1="69.79" y1="651.45" x2="78.69" y2="635.7" stroke="#fff" stroke-width="2.9" stroke-linecap="round"/>
<line x1="70.19" y1="650.75" x2="78.29" y2="636.4" stroke="#3e6ea0" stroke-width="2.82" stroke-linecap="round"/>
<line x1="70.19" y1="650.75" x2="78.29" y2="636.4" stroke="#6a9fd0" stroke-width="2.2" stroke-linecap="round"/>
<line x1="73.49" y1="653.47" x2="82.38" y2="637.73" stroke="#aaa" stroke-width="3.43" stroke-linecap="round"/>
<line x1="73.49" y1="653.47" x2="82.38" y2="637.73" stroke="#fff" stroke-width="2.9" stroke-linecap="round"/>
<line x1="73.89" y1="652.77" x2="81.98" y2="638.43" stroke="#2a4e88" stroke-width="2.82" stroke-linecap="round"/>
<line x1="73.89" y1="652.77" x2="81.98" y2="638.43" stroke="#3f74b0" stroke-width="2.2" stroke-linecap="round"/>
<line x1="74.77" y1="653.21" x2="72.77" y2="660.3" stroke="#444" stroke-width="0.6"/>
<circle cx="69.6" cy="677.8" r="17.8" fill="#dcdcdc" stroke="#7f93b5" stroke-width="0.6"/>
<ellipse cx="69.3" cy="681.3" rx="11.8" ry="10.1" fill="#9fb8dd" stroke="#6f8cbc" stroke-width="0.5"/>
<path d="M58.8,667.5 C60.5,662.5 62.5,662.5 64,666.5 C65.5,670.5 67.2,670.5 68.8,666 C70.3,662 72.2,662 73.8,666.2 C75.3,670.2 77.5,670.2 80,666.5" fill="none" stroke="#4bbfa8" stroke-width="2.2"/>
<text x="149.2" y="585.9" font-size="20" stroke="#111" stroke-width="0.45">n</text>
<line x1="196.9" y1="592.9" x2="196.9" y2="693.9" stroke="#888" stroke-width="0.9"/>
<line x1="193.8" y1="693.9" x2="196.9" y2="693.9" stroke="#888" stroke-width="0.8"/>
<text x="0" y="0" font-size="11.66" text-anchor="end" transform="translate(192.2 697.7) scale(0.9434 1)" stroke="#111" stroke-width="0.3">0</text>
<line x1="193.8" y1="673.8" x2="196.9" y2="673.8" stroke="#888" stroke-width="0.8"/>
<text x="0" y="0" font-size="11.66" text-anchor="end" transform="translate(192.2 677.6) scale(0.9434 1)" stroke="#111" stroke-width="0.3">10</text>
<line x1="193.8" y1="653.7" x2="196.9" y2="653.7" stroke="#888" stroke-width="0.8"/>
<text x="0" y="0" font-size="11.66" text-anchor="end" transform="translate(192.2 657.5) scale(0.9434 1)" stroke="#111" stroke-width="0.3">20</text>
<line x1="193.8" y1="633.6" x2="196.9" y2="633.6" stroke="#888" stroke-width="0.8"/>
<text x="0" y="0" font-size="11.66" text-anchor="end" transform="translate(192.2 637.4) scale(0.9434 1)" stroke="#111" stroke-width="0.3">30</text>
<line x1="193.8" y1="613.5" x2="196.9" y2="613.5" stroke="#888" stroke-width="0.8"/>
<text x="0" y="0" font-size="11.66" text-anchor="end" transform="translate(192.2 617.3) scale(0.9434 1)" stroke="#111" stroke-width="0.3">40</text>
<line x1="193.8" y1="593.4" x2="196.9" y2="593.4" stroke="#888" stroke-width="0.8"/>
<text x="0" y="0" font-size="11.66" text-anchor="end" transform="translate(192.2 597.2) scale(0.9434 1)" stroke="#111" stroke-width="0.3">50</text>
<line x1="196.9" y1="693.9" x2="328.3" y2="693.9" stroke="#888" stroke-width="0.9"/>
<line x1="210.1" y1="693.9" x2="210.1" y2="697" stroke="#888" stroke-width="0.8"/>
<text x="0" y="0" font-size="11.02" text-anchor="middle" transform="translate(210.1 709) scale(0.9434 1)" stroke="#111" stroke-width="0.3">0</text>
<line x1="236.4" y1="693.9" x2="236.4" y2="697" stroke="#888" stroke-width="0.8"/>
<text x="0" y="0" font-size="11.02" text-anchor="middle" transform="translate(236.4 709) scale(0.9434 1)" stroke="#111" stroke-width="0.3">9</text>
<line x1="262.6" y1="693.9" x2="262.6" y2="697" stroke="#888" stroke-width="0.8"/>
<text x="0" y="0" font-size="11.02" text-anchor="middle" transform="translate(262.6 709) scale(0.9434 1)" stroke="#111" stroke-width="0.3">11</text>
<line x1="288.9" y1="693.9" x2="288.9" y2="697" stroke="#888" stroke-width="0.8"/>
<text x="0" y="0" font-size="11.02" text-anchor="middle" transform="translate(288.9 709) scale(0.9434 1)" stroke="#111" stroke-width="0.3">13</text>
<line x1="315.2" y1="693.9" x2="315.2" y2="697" stroke="#888" stroke-width="0.8"/>
<text x="0" y="0" font-size="11.02" text-anchor="middle" transform="translate(315.2 709) scale(0.9434 1)" stroke="#111" stroke-width="0.3">15</text>
<text x="0" y="0" font-size="11.98" text-anchor="middle" transform="translate(263 724.5) scale(0.9434 1)" stroke="#111" stroke-width="0.3">Days</text>
<text x="0" y="0" font-size="12.4" text-anchor="middle" transform="translate(174.2 640.7) rotate(-90) scale(0.9434 1)" stroke="#111" stroke-width="0.3">CAR T cells (5x10<tspan font-size="7.84" dy="-4.1">4</tspan><tspan dy="4.1">)</tspan></text>
<line x1="210.1" y1="691.29" x2="210.1" y2="692.49" stroke="#444" stroke-width="0.7"/>
<line x1="207.7" y1="691.29" x2="212.5" y2="691.29" stroke="#444" stroke-width="0.7"/>
<line x1="207.7" y1="692.49" x2="212.5" y2="692.49" stroke="#444" stroke-width="0.7"/>
<line x1="236.4" y1="620.13" x2="236.4" y2="632.19" stroke="#444" stroke-width="0.7"/>
<line x1="234" y1="620.13" x2="238.8" y2="620.13" stroke="#444" stroke-width="0.7"/>
<line x1="234" y1="632.19" x2="238.8" y2="632.19" stroke="#444" stroke-width="0.7"/>
<line x1="262.6" y1="600.64" x2="262.6" y2="611.89" stroke="#444" stroke-width="0.7"/>
<line x1="260.2" y1="600.64" x2="265" y2="600.64" stroke="#444" stroke-width="0.7"/>
<line x1="260.2" y1="611.89" x2="265" y2="611.89" stroke="#444" stroke-width="0.7"/>
<line x1="288.9" y1="605.46" x2="288.9" y2="617.52" stroke="#444" stroke-width="0.7"/>
<line x1="286.5" y1="605.46" x2="291.3" y2="605.46" stroke="#444" stroke-width="0.7"/>
<line x1="286.5" y1="617.52" x2="291.3" y2="617.52" stroke="#444" stroke-width="0.7"/>
<line x1="315.2" y1="622.14" x2="315.2" y2="632.19" stroke="#444" stroke-width="0.7"/>
<line x1="312.8" y1="622.14" x2="317.6" y2="622.14" stroke="#444" stroke-width="0.7"/>
<line x1="312.8" y1="632.19" x2="317.6" y2="632.19" stroke="#444" stroke-width="0.7"/>
<line x1="210.1" y1="691.29" x2="210.1" y2="692.49" stroke="#777" stroke-width="0.7"/>
<line x1="207.7" y1="691.29" x2="212.5" y2="691.29" stroke="#777" stroke-width="0.7"/>
<line x1="207.7" y1="692.49" x2="212.5" y2="692.49" stroke="#777" stroke-width="0.7"/>
<line x1="236.4" y1="623.75" x2="236.4" y2="641.84" stroke="#777" stroke-width="0.7"/>
<line x1="234" y1="623.75" x2="238.8" y2="623.75" stroke="#777" stroke-width="0.7"/>
<line x1="234" y1="641.84" x2="238.8" y2="641.84" stroke="#777" stroke-width="0.7"/>
<line x1="262.6" y1="614.1" x2="262.6" y2="632.19" stroke="#777" stroke-width="0.7"/>
<line x1="260.2" y1="614.1" x2="265" y2="614.1" stroke="#777" stroke-width="0.7"/>
<line x1="260.2" y1="632.19" x2="265" y2="632.19" stroke="#777" stroke-width="0.7"/>
<line x1="288.9" y1="616.72" x2="288.9" y2="634.81" stroke="#777" stroke-width="0.7"/>
<line x1="286.5" y1="616.72" x2="291.3" y2="616.72" stroke="#777" stroke-width="0.7"/>
<line x1="286.5" y1="634.81" x2="291.3" y2="634.81" stroke="#777" stroke-width="0.7"/>
<line x1="315.2" y1="631.59" x2="315.2" y2="642.85" stroke="#777" stroke-width="0.7"/>
<line x1="312.8" y1="631.59" x2="317.6" y2="631.59" stroke="#777" stroke-width="0.7"/>
<line x1="312.8" y1="642.85" x2="317.6" y2="642.85" stroke="#777" stroke-width="0.7"/>
<line x1="210.1" y1="691.29" x2="210.1" y2="692.49" stroke="#444" stroke-width="0.7"/>
<line x1="207.7" y1="691.29" x2="212.5" y2="691.29" stroke="#444" stroke-width="0.7"/>
<line x1="207.7" y1="692.49" x2="212.5" y2="692.49" stroke="#444" stroke-width="0.7"/>
<line x1="236.4" y1="643.05" x2="236.4" y2="653.5" stroke="#444" stroke-width="0.7"/>
<line x1="234" y1="643.05" x2="238.8" y2="643.05" stroke="#444" stroke-width="0.7"/>
<line x1="234" y1="653.5" x2="238.8" y2="653.5" stroke="#444" stroke-width="0.7"/>
<line x1="262.6" y1="623.35" x2="262.6" y2="634.61" stroke="#444" stroke-width="0.7"/>
<line x1="260.2" y1="623.35" x2="265" y2="623.35" stroke="#444" stroke-width="0.7"/>
<line x1="260.2" y1="634.61" x2="265" y2="634.61" stroke="#444" stroke-width="0.7"/>
<line x1="288.9" y1="634.2" x2="288.9" y2="643.85" stroke="#444" stroke-width="0.7"/>
<line x1="286.5" y1="634.2" x2="291.3" y2="634.2" stroke="#444" stroke-width="0.7"/>
<line x1="286.5" y1="643.85" x2="291.3" y2="643.85" stroke="#444" stroke-width="0.7"/>
<line x1="315.2" y1="652.49" x2="315.2" y2="657.32" stroke="#444" stroke-width="0.7"/>
<line x1="312.8" y1="652.49" x2="317.6" y2="652.49" stroke="#444" stroke-width="0.7"/>
<line x1="312.8" y1="657.32" x2="317.6" y2="657.32" stroke="#444" stroke-width="0.7"/>
<polyline points="210.1,691.89 236.4,632.8 262.6,623.15 288.9,625.76 315.2,637.22" fill="none" stroke="#f2d27a" stroke-width="1.4" stroke-linejoin="round"/>
<polyline points="210.1,691.89 236.4,648.27 262.6,628.98 288.9,639.03 315.2,654.91" fill="none" stroke="#f08c28" stroke-width="1.4" stroke-linejoin="round"/>
<polyline points="210.1,691.89 236.4,626.16 262.6,606.26 288.9,611.49 315.2,627.17" fill="none" stroke="#4cb07a" stroke-width="1.4" stroke-linejoin="round"/>
<path d="M210.1,689.49 L212.4,693.49 L207.8,693.49 Z" fill="#999" stroke="none" stroke-width="1"/>
<path d="M236.4,630.4 L238.7,634.4 L234.1,634.4 Z" fill="#999" stroke="none" stroke-width="1"/>
<path d="M262.6,620.75 L264.9,624.75 L260.3,624.75 Z" fill="#999" stroke="none" stroke-width="1"/>
<path d="M288.9,623.36 L291.2,627.36 L286.6,627.36 Z" fill="#999" stroke="none" stroke-width="1"/>
<path d="M315.2,634.82 L317.5,638.82 L312.9,638.82 Z" fill="#999" stroke="none" stroke-width="1"/>
<circle cx="210.1" cy="691.89" r="2.4" fill="#000" stroke="none" stroke-width="1"/>
<circle cx="236.4" cy="648.27" r="2.4" fill="#000" stroke="none" stroke-width="1"/>
<circle cx="262.6" cy="628.98" r="2.4" fill="#000" stroke="none" stroke-width="1"/>
<circle cx="288.9" cy="639.03" r="2.4" fill="#000" stroke="none" stroke-width="1"/>
<circle cx="315.2" cy="654.91" r="2.4" fill="#000" stroke="none" stroke-width="1"/>
<rect x="207.7" y="689.49" width="4.8" height="4.8" fill="#000" stroke="none" stroke-width="1"/>
<rect x="234" y="623.76" width="4.8" height="4.8" fill="#000" stroke="none" stroke-width="1"/>
<rect x="260.2" y="603.86" width="4.8" height="4.8" fill="#000" stroke="none" stroke-width="1"/>
<rect x="286.5" y="609.09" width="4.8" height="4.8" fill="#000" stroke="none" stroke-width="1"/>
<rect x="312.8" y="624.77" width="4.8" height="4.8" fill="#000" stroke="none" stroke-width="1"/>
<path d="M319.4,627.4 L322.2,627.4 L322.2,655.2 L319.4,655.2" fill="none" stroke="#555" stroke-width="0.8"/>
<text x="319.68" y="641.5" font-size="10.5" text-anchor="middle" font-weight="bold" fill="#111" transform="rotate(90 319.68 641.5)">**</text>
<line x1="204" y1="565.8" x2="212.7" y2="565.8" stroke="#f08c28" stroke-width="1.3"/>
<circle cx="208.4" cy="565.8" r="2.3" fill="#000" stroke="none" stroke-width="1"/>
<line x1="204" y1="578.9" x2="212.7" y2="578.9" stroke="#4cb07a" stroke-width="1.3"/>
<rect x="206.2" y="576.7" width="4.4" height="4.4" fill="#000" stroke="none" stroke-width="1"/>
<line x1="204" y1="593.8" x2="212.7" y2="593.8" stroke="#f2d27a" stroke-width="1.3"/>
<path d="M208.4,591.6 L210.6,595.4 L206.2,595.4 Z" fill="#999" stroke="none" stroke-width="1"/>
<text x="0" y="0" font-size="11.66" transform="translate(218 571.9) scale(0.9434 1)" stroke="#111" stroke-width="0.3">b20/19<tspan font-size="9.22" dy="-3.7">pVEC+Scram</tspan></text>
<text x="0" y="0" font-size="11.66" transform="translate(218 584.7) scale(0.9434 1)" stroke="#111" stroke-width="0.3">b20/19<tspan font-size="9.22" dy="-3.7">shAKT3</tspan></text>
<text x="0" y="0" font-size="11.66" transform="translate(218 598.7) scale(0.9434 1)" stroke="#111" stroke-width="0.3">b20/19<tspan font-size="9.22" dy="-3.7">pAKT3+shAKT3</tspan></text>
<text x="332" y="582.3" font-size="20" stroke="#111" stroke-width="0.45">o</text>
<line x1="371.4" y1="582.2" x2="371.4" y2="674.3" stroke="#888" stroke-width="0.9"/>
<line x1="368.8" y1="674.3" x2="371.4" y2="674.3" stroke="#888" stroke-width="0.8"/>
<text x="0" y="0" font-size="8.82" text-anchor="end" transform="translate(368.5 677.3) scale(0.9524 1)" stroke="#111" stroke-width="0.17">0</text>
<line x1="368.8" y1="651.29" x2="371.4" y2="651.29" stroke="#888" stroke-width="0.8"/>
<text x="0" y="0" font-size="8.82" text-anchor="end" transform="translate(368.5 654.29) scale(0.9524 1)" stroke="#111" stroke-width="0.17">30</text>
<line x1="368.8" y1="628.28" x2="371.4" y2="628.28" stroke="#888" stroke-width="0.8"/>
<text x="0" y="0" font-size="8.82" text-anchor="end" transform="translate(368.5 631.28) scale(0.9524 1)" stroke="#111" stroke-width="0.17">60</text>
<line x1="368.8" y1="605.27" x2="371.4" y2="605.27" stroke="#888" stroke-width="0.8"/>
<text x="0" y="0" font-size="8.82" text-anchor="end" transform="translate(368.5 608.27) scale(0.9524 1)" stroke="#111" stroke-width="0.17">90</text>
<line x1="368.8" y1="582.26" x2="371.4" y2="582.26" stroke="#888" stroke-width="0.8"/>
<text x="0" y="0" font-size="8.82" text-anchor="end" transform="translate(368.5 585.26) scale(0.9524 1)" stroke="#111" stroke-width="0.17">120</text>
<line x1="371.4" y1="674.3" x2="431.2" y2="674.3" stroke="#888" stroke-width="0.9"/>
<rect x="375.8" y="648.99" width="15" height="25.31" fill="#4da6fb" stroke="#555" stroke-width="0.3"/>
<rect x="375.8" y="607.57" width="15" height="41.42" fill="#fb5bbd" stroke="#555" stroke-width="0.3"/>
<rect x="375.8" y="603.74" width="15" height="3.83" fill="#7fd5c5" stroke="#555" stroke-width="0.3"/>
<rect x="375.8" y="597.6" width="15" height="6.14" fill="#3d4fa8" stroke="#555" stroke-width="0.3"/>
<line x1="383.3" y1="674.3" x2="383.3" y2="677" stroke="#888" stroke-width="0.8"/>
<rect x="395.2" y="634.8" width="15.2" height="39.5" fill="#4da6fb" stroke="#555" stroke-width="0.3"/>
<rect x="395.2" y="610.26" width="15.2" height="24.54" fill="#fb5bbd" stroke="#555" stroke-width="0.3"/>
<rect x="395.2" y="599.52" width="15.2" height="10.74" fill="#7fd5c5" stroke="#555" stroke-width="0.3"/>
<rect x="395.2" y="597.6" width="15.2" height="1.92" fill="#3d4fa8" stroke="#555" stroke-width="0.3"/>
<line x1="402.8" y1="674.3" x2="402.8" y2="677" stroke="#888" stroke-width="0.8"/>
<rect x="414.5" y="639.4" width="15.1" height="34.9" fill="#4da6fb" stroke="#555" stroke-width="0.3"/>
<rect x="414.5" y="609.72" width="15.1" height="29.68" fill="#fb5bbd" stroke="#555" stroke-width="0.3"/>
<rect x="414.5" y="602.82" width="15.1" height="6.9" fill="#7fd5c5" stroke="#555" stroke-width="0.3"/>
<rect x="414.5" y="597.6" width="15.1" height="5.22" fill="#3d4fa8" stroke="#555" stroke-width="0.3"/>
<line x1="422.05" y1="674.3" x2="422.05" y2="677" stroke="#888" stroke-width="0.8"/>
<line x1="383.3" y1="647.49" x2="383.3" y2="649.49" stroke="#333" stroke-width="0.6"/>
<line x1="379.8" y1="647.49" x2="386.8" y2="647.49" stroke="#333" stroke-width="0.6"/>
<line x1="379.8" y1="649.49" x2="386.8" y2="649.49" stroke="#333" stroke-width="0.6"/>
<line x1="383.3" y1="606.07" x2="383.3" y2="608.07" stroke="#333" stroke-width="0.6"/>
<line x1="379.8" y1="606.07" x2="386.8" y2="606.07" stroke="#333" stroke-width="0.6"/>
<line x1="379.8" y1="608.07" x2="386.8" y2="608.07" stroke="#333" stroke-width="0.6"/>
<line x1="383.3" y1="602.24" x2="383.3" y2="604.24" stroke="#333" stroke-width="0.6"/>
<line x1="379.8" y1="602.24" x2="386.8" y2="602.24" stroke="#333" stroke-width="0.6"/>
<line x1="379.8" y1="604.24" x2="386.8" y2="604.24" stroke="#333" stroke-width="0.6"/>
<line x1="383.3" y1="596.8" x2="383.3" y2="597.9" stroke="#333" stroke-width="0.6"/>
<line x1="379.8" y1="596.8" x2="386.8" y2="596.8" stroke="#333" stroke-width="0.6"/>
<line x1="379.8" y1="597.9" x2="386.8" y2="597.9" stroke="#333" stroke-width="0.6"/>
<line x1="402.8" y1="633.3" x2="402.8" y2="635.3" stroke="#333" stroke-width="0.6"/>
<line x1="399.3" y1="633.3" x2="406.3" y2="633.3" stroke="#333" stroke-width="0.6"/>
<line x1="399.3" y1="635.3" x2="406.3" y2="635.3" stroke="#333" stroke-width="0.6"/>
<line x1="402.8" y1="608.76" x2="402.8" y2="610.76" stroke="#333" stroke-width="0.6"/>
<line x1="399.3" y1="608.76" x2="406.3" y2="608.76" stroke="#333" stroke-width="0.6"/>
<line x1="399.3" y1="610.76" x2="406.3" y2="610.76" stroke="#333" stroke-width="0.6"/>
<line x1="402.8" y1="598.02" x2="402.8" y2="600.02" stroke="#333" stroke-width="0.6"/>
<line x1="399.3" y1="598.02" x2="406.3" y2="598.02" stroke="#333" stroke-width="0.6"/>
<line x1="399.3" y1="600.02" x2="406.3" y2="600.02" stroke="#333" stroke-width="0.6"/>
<line x1="402.8" y1="596.8" x2="402.8" y2="597.9" stroke="#333" stroke-width="0.6"/>
<line x1="399.3" y1="596.8" x2="406.3" y2="596.8" stroke="#333" stroke-width="0.6"/>
<line x1="399.3" y1="597.9" x2="406.3" y2="597.9" stroke="#333" stroke-width="0.6"/>
<line x1="422.05" y1="637.9" x2="422.05" y2="639.9" stroke="#333" stroke-width="0.6"/>
<line x1="418.55" y1="637.9" x2="425.55" y2="637.9" stroke="#333" stroke-width="0.6"/>
<line x1="418.55" y1="639.9" x2="425.55" y2="639.9" stroke="#333" stroke-width="0.6"/>
<line x1="422.05" y1="608.22" x2="422.05" y2="610.22" stroke="#333" stroke-width="0.6"/>
<line x1="418.55" y1="608.22" x2="425.55" y2="608.22" stroke="#333" stroke-width="0.6"/>
<line x1="418.55" y1="610.22" x2="425.55" y2="610.22" stroke="#333" stroke-width="0.6"/>
<line x1="422.05" y1="601.32" x2="422.05" y2="603.32" stroke="#333" stroke-width="0.6"/>
<line x1="418.55" y1="601.32" x2="425.55" y2="601.32" stroke="#333" stroke-width="0.6"/>
<line x1="418.55" y1="603.32" x2="425.55" y2="603.32" stroke="#333" stroke-width="0.6"/>
<line x1="422.05" y1="596.8" x2="422.05" y2="597.9" stroke="#333" stroke-width="0.6"/>
<line x1="418.55" y1="596.8" x2="425.55" y2="596.8" stroke="#333" stroke-width="0.6"/>
<line x1="418.55" y1="597.9" x2="425.55" y2="597.9" stroke="#333" stroke-width="0.6"/>
<path d="M383.4,593.6 L383.4,591.1 L404.2,591.1 L404.2,593.8" fill="none" stroke="#777" stroke-width="0.8"/>
<path d="M383.4,591.1 L383.4,582.6 L422.8,582.6 L422.8,593.6" fill="none" stroke="#777" stroke-width="0.8"/>
<text x="395.4" y="592.24" font-size="8.5" text-anchor="middle" font-weight="bold" fill="#111">****</text>
<text x="406.4" y="583.44" font-size="8.5" text-anchor="middle" font-weight="bold" fill="#111">****</text>
<text x="0" y="0" font-size="8.82" text-anchor="middle" transform="translate(354 633) rotate(-90) scale(0.9524 1)" stroke="#111" stroke-width="0.17">% CD8 T cells</text>
<rect x="433.2" y="609" width="4.3" height="4.3" fill="#4da6fb" stroke="#555" stroke-width="0.2"/>
<text x="0" y="0" font-size="9.03" transform="translate(439.5 615) scale(0.9524 1)" stroke="#111" stroke-width="0.17">CD8 T<tspan font-size="6.3" dy="2.3">em</tspan><tspan dy="-2.3" font-size="9.03"> PD1</tspan><tspan font-size="6.3" dy="-3.3">low</tspan></text>
<rect x="433.2" y="624.8" width="4.3" height="4.3" fill="#fb5bbd" stroke="#555" stroke-width="0.2"/>
<text x="0" y="0" font-size="9.03" transform="translate(439.5 630.8) scale(0.9524 1)" stroke="#111" stroke-width="0.17">CD8 T<tspan font-size="6.3" dy="2.3">em</tspan><tspan dy="-2.3" font-size="9.03"> PD1</tspan><tspan font-size="6.3" dy="-3.3">high</tspan></text>
<rect x="433.2" y="641.6" width="4.3" height="4.3" fill="#7fd5c5" stroke="#555" stroke-width="0.2"/>
<text x="0" y="0" font-size="9.03" transform="translate(439.5 647.6) scale(0.9524 1)" stroke="#111" stroke-width="0.17">CD8 T<tspan font-size="6.3" dy="2.3">cm</tspan><tspan dy="-2.3" font-size="9.03"> PD1</tspan><tspan font-size="6.3" dy="-3.3">low</tspan></text>
<rect x="433.2" y="657.7" width="4.3" height="4.3" fill="#3d4fa8" stroke="#555" stroke-width="0.2"/>
<text x="0" y="0" font-size="9.03" transform="translate(439.5 663.7) scale(0.9524 1)" stroke="#111" stroke-width="0.17">CD8 T<tspan font-size="6.3" dy="2.3">cm</tspan><tspan dy="-2.3" font-size="9.03"> PD1</tspan><tspan font-size="6.3" dy="-3.3">high</tspan></text>
<text x="0" y="0" font-size="9.24" transform="translate(340.4 727.4) rotate(-45) scale(0.9524 1)" stroke="#111" stroke-width="0.1">b20/19<tspan font-size="6.66" dy="-1.76">pVEC+Scram</tspan></text>
<text x="0" y="0" font-size="9.24" transform="translate(371 715.7) rotate(-45) scale(0.9524 1)" stroke="#111" stroke-width="0.1">b20/19<tspan font-size="6.66" dy="-1.76">shAKT3</tspan></text>
<text x="0" y="0" font-size="9.24" transform="translate(373.6 732.7) rotate(-45) scale(0.9524 1)" stroke="#111" stroke-width="0.1">b20/19<tspan font-size="6.66" dy="-1.76">pAKT3+shAKT3</tspan></text>
<rect x="576.6" y="579.9" width="4" height="3.8" fill="#4da6fb" stroke="none" stroke-width="1"/>
<text x="0" y="0" font-size="5.57" fill="#444" transform="translate(582.6 583.5) scale(0.9524 1)" stroke="#444" stroke-width="0.11">CD8 T<tspan font-size="3.78" dy="1.3">em</tspan><tspan dy="-1.3" font-size="5.57"> PD1</tspan><tspan font-size="3.78" dy="-2">low</tspan></text>
<rect x="576.6" y="586.7" width="4" height="3.8" fill="#fb5bbd" stroke="none" stroke-width="1"/>
<text x="0" y="0" font-size="5.57" fill="#444" transform="translate(582.6 590.3) scale(0.9524 1)" stroke="#444" stroke-width="0.11">CD8 T<tspan font-size="3.78" dy="1.3">em</tspan><tspan dy="-1.3" font-size="5.57"> PD1</tspan><tspan font-size="3.78" dy="-2">high</tspan></text>
<rect x="576.6" y="593.3" width="4" height="3.8" fill="#3d9a8c" stroke="none" stroke-width="1"/>
<text x="0" y="0" font-size="5.57" fill="#444" transform="translate(582.6 596.9) scale(0.9524 1)" stroke="#444" stroke-width="0.11">CD8 T<tspan font-size="3.78" dy="1.3">cm</tspan><tspan dy="-1.3" font-size="5.57"> PD1</tspan><tspan font-size="3.78" dy="-2">low</tspan></text>
<rect x="576.6" y="599.7" width="4" height="3.8" fill="#1a189e" stroke="none" stroke-width="1"/>
<text x="0" y="0" font-size="5.57" fill="#444" transform="translate(582.6 603.3) scale(0.9524 1)" stroke="#444" stroke-width="0.11">CD8 T<tspan font-size="3.78" dy="1.3">cm</tspan><tspan dy="-1.3" font-size="5.57"> PD1</tspan><tspan font-size="3.78" dy="-2">high</tspan></text>
<path d="M549.35,624.94 L540.58,609.68 A17.6,17.6 0 0 1 566.95,624.94 Z" fill="#4da6fb" stroke="#888" stroke-width="0.3"/>
<path d="M546.48,627.06 L557.52,640.76 A17.6,17.6 0 1 1 537.71,611.8 Z" fill="#fb5bbd" stroke="#888" stroke-width="0.3"/>
<path d="M551.81,627.22 L567.83,634.52 A17.6,17.6 0 0 1 562.85,640.92 Z" fill="#3d9a8c" stroke="#888" stroke-width="0.3"/>
<path d="M552.42,625.9 L570.02,625.9 A17.6,17.6 0 0 1 568.44,633.19 Z" fill="#1a189e" stroke="#888" stroke-width="0.3"/>
<path d="M595.84,623.3 L579.14,618.79 A17.3,17.3 0 0 1 613.14,623.3 Z" fill="#4da6fb" stroke="#888" stroke-width="0.3"/>
<path d="M593.9,626.18 L603.17,640.78 A17.3,17.3 0 0 1 577.2,621.66 Z" fill="#fb5bbd" stroke="#888" stroke-width="0.3"/>
<path d="M597.76,625.31 L613.51,632.48 A17.3,17.3 0 0 1 607.03,639.91 Z" fill="#3d9a8c" stroke="#888" stroke-width="0.3"/>
<path d="M598.93,624.28 L616.23,624.28 A17.3,17.3 0 0 1 614.67,631.45 Z" fill="#1a189e" stroke="#888" stroke-width="0.3"/>
<path d="M644.09,623.8 L626.65,625.23 A17.5,17.5 0 1 1 661.59,623.8 Z" fill="#4da6fb" stroke="#888" stroke-width="0.3"/>
<path d="M642.61,626.93 L651.33,642.11 A17.5,17.5 0 0 1 625.17,628.36 Z" fill="#fb5bbd" stroke="#888" stroke-width="0.3"/>
<path d="M645.12,624.73 L662.59,625.72 A17.5,17.5 0 0 1 653.84,639.9 Z" fill="#3d9a8c" stroke="#888" stroke-width="0.3"/>
<path d="M647.6,624.2 L665.1,624.2 A17.5,17.5 0 0 1 665.07,625.19 Z" fill="#1a189e" stroke="#888" stroke-width="0.3"/>
<text x="0" y="0" font-size="11.87" transform="translate(497.5 703.2) rotate(-45) scale(0.9524 1)" stroke="#111" stroke-width="0.1">b20/19<tspan font-size="6.88" dy="-2.71">pVEC+Scram</tspan></text>
<text x="0" y="0" font-size="11.87" transform="translate(560.3 690.7) rotate(-45) scale(0.9524 1)" stroke="#111" stroke-width="0.1">b20/19<tspan font-size="6.88" dy="-2.71">shAKT3</tspan></text>
<text x="0" y="0" font-size="11.87" transform="translate(582.6 708.5) rotate(-45) scale(0.9524 1)" stroke="#111" stroke-width="0.1">b20/19<tspan font-size="6.88" dy="-2.71">pAKT3+shAKT3</tspan></text>
<text x="2.2" y="763.8" font-size="20" stroke="#111" stroke-width="0.45">p</text>
<line x1="64.5" y1="758.7" x2="64.5" y2="848.4" stroke="#888" stroke-width="0.9"/>
<line x1="61.5" y1="848.4" x2="64.5" y2="848.4" stroke="#888" stroke-width="0.8"/>
<text x="0" y="0" font-size="11.66" text-anchor="end" transform="translate(60.7 852.3) scale(0.9434 1)" stroke="#111" stroke-width="0.3">0</text>
<line x1="61.5" y1="825.98" x2="64.5" y2="825.98" stroke="#888" stroke-width="0.8"/>
<text x="0" y="0" font-size="11.66" text-anchor="end" transform="translate(60.7 829.88) scale(0.9434 1)" stroke="#111" stroke-width="0.3">5</text>
<line x1="61.5" y1="803.55" x2="64.5" y2="803.55" stroke="#888" stroke-width="0.8"/>
<text x="0" y="0" font-size="11.66" text-anchor="end" transform="translate(60.7 807.45) scale(0.9434 1)" stroke="#111" stroke-width="0.3">10</text>
<line x1="61.5" y1="781.12" x2="64.5" y2="781.12" stroke="#888" stroke-width="0.8"/>
<text x="0" y="0" font-size="11.66" text-anchor="end" transform="translate(60.7 785.02) scale(0.9434 1)" stroke="#111" stroke-width="0.3">15</text>
<line x1="61.5" y1="758.7" x2="64.5" y2="758.7" stroke="#888" stroke-width="0.8"/>
<text x="0" y="0" font-size="11.66" text-anchor="end" transform="translate(60.7 762.6) scale(0.9434 1)" stroke="#111" stroke-width="0.3">20</text>
<line x1="64.5" y1="848.4" x2="127.7" y2="848.4" stroke="#888" stroke-width="0.9"/>
<rect x="68.3" y="785.4" width="13.9" height="63" fill="#f0a43a" stroke="#a87020" stroke-width="0.5"/>
<rect x="89.5" y="810.3" width="14.4" height="38.1" fill="#5cb884" stroke="#3a8a5a" stroke-width="0.5"/>
<rect x="111" y="804.3" width="13.9" height="44.1" fill="#f2d585" stroke="#b09a50" stroke-width="0.5"/>
<line x1="75.6" y1="848.4" x2="75.6" y2="851.3" stroke="#888" stroke-width="0.8"/>
<line x1="96.5" y1="848.4" x2="96.5" y2="851.3" stroke="#888" stroke-width="0.8"/>
<line x1="117.9" y1="848.4" x2="117.9" y2="851.3" stroke="#888" stroke-width="0.8"/>
<line x1="75.5" y1="780.1" x2="75.5" y2="790.2" stroke="#333" stroke-width="0.7"/>
<line x1="72" y1="780.1" x2="79" y2="780.1" stroke="#333" stroke-width="0.7"/>
<line x1="72" y1="790.2" x2="79" y2="790.2" stroke="#333" stroke-width="0.7"/>
<line x1="96.7" y1="805.9" x2="96.7" y2="812" stroke="#ccc" stroke-width="0.7"/>
<line x1="93.2" y1="805.9" x2="100.2" y2="805.9" stroke="#ccc" stroke-width="0.7"/>
<line x1="93.2" y1="812" x2="100.2" y2="812" stroke="#ccc" stroke-width="0.7"/>
<line x1="117.8" y1="800.3" x2="117.8" y2="806" stroke="#333" stroke-width="0.7"/>
<line x1="114.3" y1="800.3" x2="121.3" y2="800.3" stroke="#333" stroke-width="0.7"/>
<line x1="114.3" y1="806" x2="121.3" y2="806" stroke="#333" stroke-width="0.7"/>
<circle cx="70.1" cy="771.7" r="1.95" fill="#000" stroke="none" stroke-width="1"/>
<circle cx="75.2" cy="771.7" r="1.95" fill="#000" stroke="none" stroke-width="1"/>
<circle cx="80.4" cy="771.7" r="1.95" fill="#000" stroke="none" stroke-width="1"/>
<circle cx="75.2" cy="776.4" r="1.95" fill="#000" stroke="none" stroke-width="1"/>
<circle cx="75.2" cy="785.4" r="1.95" fill="#000" stroke="none" stroke-width="1"/>
<circle cx="72.6" cy="798.8" r="1.95" fill="#000" stroke="none" stroke-width="1"/>
<circle cx="77.8" cy="798.8" r="1.95" fill="#000" stroke="none" stroke-width="1"/>
<circle cx="75.2" cy="807.8" r="1.95" fill="#000" stroke="none" stroke-width="1"/>
<circle cx="96.4" cy="789.8" r="1.95" fill="#000" stroke="none" stroke-width="1"/>
<circle cx="96.4" cy="794.4" r="1.95" fill="#000" stroke="none" stroke-width="1"/>
<circle cx="91.3" cy="812.2" r="1.95" fill="#000" stroke="none" stroke-width="1"/>
<circle cx="96.4" cy="812.2" r="1.95" fill="#000" stroke="none" stroke-width="1"/>
<circle cx="101.6" cy="812.2" r="1.95" fill="#000" stroke="none" stroke-width="1"/>
<circle cx="96.4" cy="816.9" r="1.95" fill="#000" stroke="none" stroke-width="1"/>
<circle cx="93.9" cy="821.4" r="1.95" fill="#000" stroke="none" stroke-width="1"/>
<circle cx="99" cy="821.4" r="1.95" fill="#000" stroke="none" stroke-width="1"/>
<circle cx="117.7" cy="789.8" r="1.95" fill="#000" stroke="none" stroke-width="1"/>
<circle cx="115.2" cy="794.4" r="1.95" fill="#000" stroke="none" stroke-width="1"/>
<circle cx="120.4" cy="794.4" r="1.95" fill="#000" stroke="none" stroke-width="1"/>
<circle cx="115.2" cy="808" r="1.95" fill="#000" stroke="none" stroke-width="1"/>
<circle cx="120.4" cy="808" r="1.95" fill="#000" stroke="none" stroke-width="1"/>
<circle cx="112.6" cy="812.5" r="1.95" fill="#000" stroke="none" stroke-width="1"/>
<circle cx="117.7" cy="812.5" r="1.95" fill="#000" stroke="none" stroke-width="1"/>
<circle cx="122.9" cy="812.5" r="1.95" fill="#000" stroke="none" stroke-width="1"/>
<path d="M76.1,768 L76.1,753.5 L118,753.5 L118,785.4" fill="none" stroke="#777" stroke-width="0.8"/>
<path d="M76.1,763 L97.5,763 L97.5,785.4" fill="none" stroke="#777" stroke-width="0.8"/>
<text x="86" y="765.93" font-size="10.3" text-anchor="middle" font-weight="bold" fill="#111">**</text>
<text x="96.6" y="755.33" font-size="10.3" text-anchor="middle" font-weight="bold" fill="#111">*</text>
<text x="0" y="0" font-size="11.34" text-anchor="middle" transform="translate(44.3 807.8) rotate(-90) scale(0.9434 1)" stroke="#111" stroke-width="0.3">ECAR (mpH/min/norm.unit)</text>
<text x="0" y="0" font-size="11.87" transform="translate(19.4 916.7) rotate(-45) scale(0.9434 1)" stroke="#111" stroke-width="0.1">b20/19<tspan font-size="8.54" dy="-2.24">pVEC+Scram</tspan></text>
<text x="0" y="0" font-size="11.87" transform="translate(55.3 901.8) rotate(-45) scale(0.9434 1)" stroke="#111" stroke-width="0.1">b20/19<tspan font-size="8.54" dy="-2.24">shAKT3</tspan></text>
<text x="0" y="0" font-size="11.87" transform="translate(55 923.5) rotate(-45) scale(0.9434 1)" stroke="#111" stroke-width="0.1">b20/19<tspan font-size="8.54" dy="-2.24">pAKT3+shAKT3</tspan></text>
<text x="155.5" y="764.5" font-size="20" stroke="#111" stroke-width="0.45">q</text>
<line x1="243.7" y1="766.9" x2="243.7" y2="847.9" stroke="#888" stroke-width="0.9"/>
<line x1="240.8" y1="847.9" x2="243.7" y2="847.9" stroke="#888" stroke-width="0.8"/>
<text x="0" y="0" font-size="10.6" text-anchor="end" transform="translate(240.2 851.5) scale(0.9434 1)" stroke="#111" stroke-width="0.3">0</text>
<line x1="240.8" y1="831.7" x2="243.7" y2="831.7" stroke="#888" stroke-width="0.8"/>
<text x="0" y="0" font-size="10.6" text-anchor="end" transform="translate(240.2 835.3) scale(0.9434 1)" stroke="#111" stroke-width="0.3">50</text>
<line x1="240.8" y1="815.5" x2="243.7" y2="815.5" stroke="#888" stroke-width="0.8"/>
<text x="0" y="0" font-size="10.6" text-anchor="end" transform="translate(240.2 819.1) scale(0.9434 1)" stroke="#111" stroke-width="0.3">100</text>
<line x1="240.8" y1="799.3" x2="243.7" y2="799.3" stroke="#888" stroke-width="0.8"/>
<text x="0" y="0" font-size="10.6" text-anchor="end" transform="translate(240.2 802.9) scale(0.9434 1)" stroke="#111" stroke-width="0.3">150</text>
<line x1="240.8" y1="783.1" x2="243.7" y2="783.1" stroke="#888" stroke-width="0.8"/>
<text x="0" y="0" font-size="10.6" text-anchor="end" transform="translate(240.2 786.7) scale(0.9434 1)" stroke="#111" stroke-width="0.3">200</text>
<line x1="240.8" y1="766.9" x2="243.7" y2="766.9" stroke="#888" stroke-width="0.8"/>
<text x="0" y="0" font-size="10.6" text-anchor="end" transform="translate(240.2 770.5) scale(0.9434 1)" stroke="#111" stroke-width="0.3">250</text>
<line x1="243.7" y1="847.9" x2="300.7" y2="847.9" stroke="#888" stroke-width="0.9"/>
<rect x="247.1" y="792.5" width="12" height="55.4" fill="#f0a43a" stroke="#a87020" stroke-width="0.5"/>
<rect x="266.2" y="781.2" width="12" height="66.7" fill="#5cb884" stroke="#3a8a5a" stroke-width="0.5"/>
<rect x="285.3" y="783.1" width="12.3" height="64.8" fill="#f2d585" stroke="#b09a50" stroke-width="0.5"/>
<line x1="253.2" y1="847.9" x2="253.2" y2="850.8" stroke="#888" stroke-width="0.8"/>
<line x1="272.6" y1="847.9" x2="272.6" y2="850.8" stroke="#888" stroke-width="0.8"/>
<line x1="291.3" y1="847.9" x2="291.3" y2="850.8" stroke="#888" stroke-width="0.8"/>
<line x1="253.1" y1="790.1" x2="253.1" y2="795" stroke="#ddd" stroke-width="0.7"/>
<line x1="250.4" y1="790.1" x2="255.8" y2="790.1" stroke="#ddd" stroke-width="0.7"/>
<line x1="250.4" y1="795" x2="255.8" y2="795" stroke="#ddd" stroke-width="0.7"/>
<line x1="272.2" y1="780.3" x2="272.2" y2="782" stroke="#ddd" stroke-width="0.7"/>
<line x1="270" y1="780.3" x2="274.4" y2="780.3" stroke="#ddd" stroke-width="0.7"/>
<line x1="270" y1="782" x2="274.4" y2="782" stroke="#ddd" stroke-width="0.7"/>
<line x1="291.5" y1="781.1" x2="291.5" y2="785" stroke="#ddd" stroke-width="0.7"/>
<line x1="289" y1="781.1" x2="294" y2="781.1" stroke="#ddd" stroke-width="0.7"/>
<line x1="289" y1="785" x2="294" y2="785" stroke="#ddd" stroke-width="0.7"/>
<circle cx="248.7" cy="786.4" r="1.95" fill="#000" stroke="none" stroke-width="1"/>
<circle cx="253.2" cy="787.5" r="1.95" fill="#000" stroke="none" stroke-width="1"/>
<circle cx="257.7" cy="788.9" r="1.95" fill="#000" stroke="none" stroke-width="1"/>
<circle cx="248.7" cy="790.2" r="1.95" fill="#000" stroke="none" stroke-width="1"/>
<circle cx="257.7" cy="792.9" r="1.95" fill="#000" stroke="none" stroke-width="1"/>
<circle cx="253.2" cy="794.8" r="1.95" fill="#000" stroke="none" stroke-width="1"/>
<circle cx="257.7" cy="796.8" r="1.95" fill="#000" stroke="none" stroke-width="1"/>
<circle cx="248.7" cy="800.1" r="1.95" fill="#000" stroke="none" stroke-width="1"/>
<circle cx="276.7" cy="775.4" r="1.95" fill="#000" stroke="none" stroke-width="1"/>
<circle cx="273.8" cy="776" r="1.95" fill="#000" stroke="none" stroke-width="1"/>
<circle cx="270.6" cy="778.5" r="1.95" fill="#000" stroke="none" stroke-width="1"/>
<circle cx="267.7" cy="782.1" r="1.95" fill="#000" stroke="none" stroke-width="1"/>
<circle cx="270.6" cy="782.1" r="1.95" fill="#000" stroke="none" stroke-width="1"/>
<circle cx="273.8" cy="784.4" r="1.95" fill="#000" stroke="none" stroke-width="1"/>
<circle cx="276.7" cy="784.4" r="1.95" fill="#000" stroke="none" stroke-width="1"/>
<circle cx="267.7" cy="786.6" r="1.95" fill="#000" stroke="none" stroke-width="1"/>
<circle cx="292.7" cy="775.2" r="1.95" fill="#000" stroke="none" stroke-width="1"/>
<circle cx="289.8" cy="775.9" r="1.95" fill="#000" stroke="none" stroke-width="1"/>
<circle cx="286.5" cy="783.5" r="1.95" fill="#000" stroke="none" stroke-width="1"/>
<circle cx="289.8" cy="782.7" r="1.95" fill="#000" stroke="none" stroke-width="1"/>
<circle cx="292.7" cy="782.7" r="1.95" fill="#000" stroke="none" stroke-width="1"/>
<circle cx="295.9" cy="785" r="1.95" fill="#000" stroke="none" stroke-width="1"/>
<circle cx="292.7" cy="787.2" r="1.95" fill="#000" stroke="none" stroke-width="1"/>
<circle cx="286.5" cy="788.4" r="1.95" fill="#000" stroke="none" stroke-width="1"/>
<path d="M251.4,784 L251.4,756.6 L292.3,756.6 L292.3,772.2" fill="none" stroke="#777" stroke-width="0.8"/>
<path d="M251.4,764.3 L272.2,764.3 L272.2,772.3" fill="none" stroke="#777" stroke-width="0.8"/>
<text x="263" y="765.64" font-size="9.4" text-anchor="middle" font-weight="bold" fill="#111">***</text>
<text x="272.4" y="757.74" font-size="9.4" text-anchor="middle" font-weight="bold" fill="#111">**</text>
<text x="0" y="0" font-size="10.28" text-anchor="middle" transform="translate(221.2 811.7) rotate(-90) scale(0.9434 1)" stroke="#111" stroke-width="0.29">OCR (pmol/min/norm.unit)</text>
<text x="0" y="0" font-size="10.81" transform="translate(202.9 910.7) rotate(-45) scale(0.9434 1)" stroke="#111" stroke-width="0.1">b20/19<tspan font-size="7.78" dy="-2.04">pVEC+Scram</tspan></text>
<text x="0" y="0" font-size="10.81" transform="translate(235.3 897.2) rotate(-45) scale(0.9434 1)" stroke="#111" stroke-width="0.1">b20/19<tspan font-size="7.78" dy="-2.04">shAKT3</tspan></text>
<text x="0" y="0" font-size="10.81" transform="translate(234.9 916.4) rotate(-45) scale(0.9434 1)" stroke="#111" stroke-width="0.1">b20/19<tspan font-size="7.78" dy="-2.04">pAKT3+shAKT3</tspan></text>
</svg>
</body></html>
